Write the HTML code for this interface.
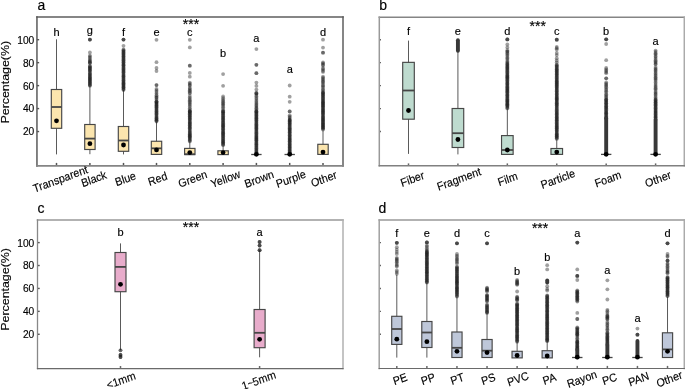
<!DOCTYPE html><html><head><meta charset="utf-8"><style>html,body{margin:0;padding:0;background:#fff;}svg{display:block;will-change:transform;}text{font-family:"Liberation Sans", sans-serif;fill:#000;stroke:#000;stroke-width:0.15px;}</style></head><body>
<svg width="685" height="389" viewBox="0 0 685 389">
<rect width="685" height="389" fill="#fff"/>
<text x="37.60" y="10.30" font-size="14" text-anchor="start" >a</text>
<line x1="36.95" y1="131.54" x2="39.15" y2="131.54" stroke="#555555" stroke-width="1.4"/>
<line x1="36.95" y1="108.58" x2="39.15" y2="108.58" stroke="#555555" stroke-width="1.4"/>
<line x1="36.95" y1="85.62" x2="39.15" y2="85.62" stroke="#555555" stroke-width="1.4"/>
<line x1="36.95" y1="62.66" x2="39.15" y2="62.66" stroke="#555555" stroke-width="1.4"/>
<line x1="36.95" y1="39.70" x2="39.15" y2="39.70" stroke="#555555" stroke-width="1.4"/>
<text x="0" y="0" font-size="11" text-anchor="end" transform="translate(34.3 135.44) scale(0.93 1)">20</text>
<text x="0" y="0" font-size="11" text-anchor="end" transform="translate(34.3 112.48) scale(0.93 1)">40</text>
<text x="0" y="0" font-size="11" text-anchor="end" transform="translate(34.3 89.52) scale(0.93 1)">60</text>
<text x="0" y="0" font-size="11" text-anchor="end" transform="translate(34.3 66.56) scale(0.93 1)">80</text>
<text x="0" y="0" font-size="11" text-anchor="end" transform="translate(34.3 43.60) scale(0.93 1)">100</text>
<text x="0" y="0" font-size="12.4" text-anchor="middle" transform="translate(9.3 82.2) scale(0.95 1) rotate(-90)">Percentage(%)</text>
<line x1="56.50" y1="165.9" x2="56.50" y2="162.90" stroke="#555555" stroke-width="1.5"/>
<line x1="89.90" y1="165.9" x2="89.90" y2="162.90" stroke="#555555" stroke-width="1.5"/>
<line x1="123.50" y1="165.9" x2="123.50" y2="162.90" stroke="#555555" stroke-width="1.5"/>
<line x1="156.50" y1="165.9" x2="156.50" y2="162.90" stroke="#555555" stroke-width="1.5"/>
<line x1="189.80" y1="165.9" x2="189.80" y2="162.90" stroke="#555555" stroke-width="1.5"/>
<line x1="223.10" y1="165.9" x2="223.10" y2="162.90" stroke="#555555" stroke-width="1.5"/>
<line x1="256.40" y1="165.9" x2="256.40" y2="162.90" stroke="#555555" stroke-width="1.5"/>
<line x1="289.70" y1="165.9" x2="289.70" y2="162.90" stroke="#555555" stroke-width="1.5"/>
<line x1="323.00" y1="165.9" x2="323.00" y2="162.90" stroke="#555555" stroke-width="1.5"/>
<line x1="56.50" y1="39.30" x2="56.50" y2="154.40" stroke="#5a5a5a" stroke-width="1"/>
<rect x="51.30" y="89.50" width="10.40" height="38.80" fill="#fbe5ae" stroke="#464646" stroke-width="1.15"/>
<line x1="51.30" y1="107.00" x2="61.70" y2="107.00" stroke="#464646" stroke-width="1.8"/>
<circle cx="56.50" cy="120.80" r="2.4" fill="#000"/>
<line x1="89.90" y1="86.00" x2="89.90" y2="154.20" stroke="#5a5a5a" stroke-width="1"/>
<rect x="84.70" y="124.50" width="10.40" height="25.00" fill="#fbe5ae" stroke="#464646" stroke-width="1.15"/>
<line x1="84.70" y1="138.60" x2="95.10" y2="138.60" stroke="#464646" stroke-width="1.8"/>
<circle cx="89.90" cy="143.70" r="2.4" fill="#000"/>
<circle cx="89.90" cy="39.60" r="1.9" fill="#1c1c1c" fill-opacity="0.42"/>
<circle cx="89.90" cy="39.60" r="1.9" fill="#1c1c1c" fill-opacity="0.42"/>
<circle cx="89.90" cy="39.60" r="1.9" fill="#1c1c1c" fill-opacity="0.42"/>
<circle cx="89.90" cy="52.50" r="1.9" fill="#1c1c1c" fill-opacity="0.42"/>
<circle cx="89.90" cy="55.60" r="1.9" fill="#1c1c1c" fill-opacity="0.42"/>
<circle cx="89.90" cy="56.83" r="1.9" fill="#1c1c1c" fill-opacity="0.42"/>
<circle cx="89.90" cy="57.95" r="1.9" fill="#1c1c1c" fill-opacity="0.42"/>
<circle cx="89.90" cy="59.40" r="1.9" fill="#1c1c1c" fill-opacity="0.42"/>
<circle cx="89.90" cy="60.70" r="1.9" fill="#1c1c1c" fill-opacity="0.42"/>
<circle cx="89.90" cy="61.46" r="1.9" fill="#1c1c1c" fill-opacity="0.42"/>
<circle cx="89.90" cy="62.16" r="1.9" fill="#1c1c1c" fill-opacity="0.42"/>
<circle cx="89.90" cy="62.75" r="1.9" fill="#1c1c1c" fill-opacity="0.42"/>
<circle cx="89.90" cy="63.30" r="1.9" fill="#1c1c1c" fill-opacity="0.42"/>
<circle cx="89.90" cy="65.80" r="1.9" fill="#1c1c1c" fill-opacity="0.42"/>
<circle cx="89.90" cy="66.38" r="1.9" fill="#1c1c1c" fill-opacity="0.42"/>
<circle cx="89.90" cy="67.10" r="1.9" fill="#1c1c1c" fill-opacity="0.42"/>
<circle cx="89.90" cy="67.69" r="1.9" fill="#1c1c1c" fill-opacity="0.42"/>
<circle cx="89.90" cy="68.29" r="1.9" fill="#1c1c1c" fill-opacity="0.42"/>
<circle cx="89.90" cy="69.01" r="1.9" fill="#1c1c1c" fill-opacity="0.42"/>
<circle cx="89.90" cy="69.88" r="1.9" fill="#1c1c1c" fill-opacity="0.42"/>
<circle cx="89.90" cy="70.49" r="1.9" fill="#1c1c1c" fill-opacity="0.42"/>
<circle cx="89.90" cy="71.00" r="1.9" fill="#1c1c1c" fill-opacity="0.42"/>
<circle cx="89.90" cy="72.50" r="1.9" fill="#1c1c1c" fill-opacity="0.42"/>
<circle cx="89.90" cy="73.30" r="1.9" fill="#1c1c1c" fill-opacity="0.42"/>
<circle cx="89.90" cy="74.22" r="1.9" fill="#1c1c1c" fill-opacity="0.42"/>
<circle cx="89.90" cy="74.99" r="1.9" fill="#1c1c1c" fill-opacity="0.42"/>
<circle cx="89.90" cy="75.71" r="1.9" fill="#1c1c1c" fill-opacity="0.42"/>
<circle cx="89.90" cy="76.63" r="1.9" fill="#1c1c1c" fill-opacity="0.42"/>
<circle cx="89.90" cy="77.21" r="1.9" fill="#1c1c1c" fill-opacity="0.42"/>
<circle cx="89.90" cy="78.10" r="1.9" fill="#1c1c1c" fill-opacity="0.42"/>
<circle cx="89.90" cy="78.77" r="1.9" fill="#1c1c1c" fill-opacity="0.42"/>
<circle cx="89.90" cy="79.39" r="1.9" fill="#1c1c1c" fill-opacity="0.42"/>
<circle cx="89.90" cy="79.99" r="1.9" fill="#1c1c1c" fill-opacity="0.42"/>
<circle cx="89.90" cy="80.67" r="1.9" fill="#1c1c1c" fill-opacity="0.42"/>
<circle cx="89.90" cy="81.54" r="1.9" fill="#1c1c1c" fill-opacity="0.42"/>
<circle cx="89.90" cy="82.17" r="1.9" fill="#1c1c1c" fill-opacity="0.42"/>
<circle cx="89.90" cy="82.95" r="1.9" fill="#1c1c1c" fill-opacity="0.42"/>
<circle cx="89.90" cy="83.75" r="1.9" fill="#1c1c1c" fill-opacity="0.42"/>
<circle cx="89.90" cy="84.46" r="1.9" fill="#1c1c1c" fill-opacity="0.42"/>
<circle cx="89.90" cy="85.22" r="1.9" fill="#1c1c1c" fill-opacity="0.42"/>
<circle cx="89.90" cy="85.81" r="1.9" fill="#1c1c1c" fill-opacity="0.42"/>
<line x1="123.50" y1="90.00" x2="123.50" y2="154.40" stroke="#5a5a5a" stroke-width="1"/>
<rect x="118.30" y="126.50" width="10.40" height="24.80" fill="#fbe5ae" stroke="#464646" stroke-width="1.15"/>
<line x1="118.30" y1="140.50" x2="128.70" y2="140.50" stroke="#464646" stroke-width="1.8"/>
<circle cx="123.50" cy="145.00" r="2.4" fill="#000"/>
<circle cx="123.50" cy="39.60" r="1.9" fill="#1c1c1c" fill-opacity="0.42"/>
<circle cx="123.50" cy="39.60" r="1.9" fill="#1c1c1c" fill-opacity="0.42"/>
<circle cx="123.50" cy="39.60" r="1.9" fill="#1c1c1c" fill-opacity="0.42"/>
<circle cx="123.50" cy="45.80" r="1.9" fill="#1c1c1c" fill-opacity="0.42"/>
<circle cx="123.50" cy="49.50" r="1.9" fill="#1c1c1c" fill-opacity="0.42"/>
<circle cx="123.50" cy="50.14" r="1.9" fill="#1c1c1c" fill-opacity="0.42"/>
<circle cx="123.50" cy="50.96" r="1.9" fill="#1c1c1c" fill-opacity="0.42"/>
<circle cx="123.50" cy="51.68" r="1.9" fill="#1c1c1c" fill-opacity="0.42"/>
<circle cx="123.50" cy="52.36" r="1.9" fill="#1c1c1c" fill-opacity="0.42"/>
<circle cx="123.50" cy="53.14" r="1.9" fill="#1c1c1c" fill-opacity="0.42"/>
<circle cx="123.50" cy="53.88" r="1.9" fill="#1c1c1c" fill-opacity="0.42"/>
<circle cx="123.50" cy="54.55" r="1.9" fill="#1c1c1c" fill-opacity="0.42"/>
<circle cx="123.50" cy="55.41" r="1.9" fill="#1c1c1c" fill-opacity="0.42"/>
<circle cx="123.50" cy="56.23" r="1.9" fill="#1c1c1c" fill-opacity="0.42"/>
<circle cx="123.50" cy="56.89" r="1.9" fill="#1c1c1c" fill-opacity="0.42"/>
<circle cx="123.50" cy="57.67" r="1.9" fill="#1c1c1c" fill-opacity="0.42"/>
<circle cx="123.50" cy="58.43" r="1.9" fill="#1c1c1c" fill-opacity="0.42"/>
<circle cx="123.50" cy="59.32" r="1.9" fill="#1c1c1c" fill-opacity="0.42"/>
<circle cx="123.50" cy="60.15" r="1.9" fill="#1c1c1c" fill-opacity="0.42"/>
<circle cx="123.50" cy="60.82" r="1.9" fill="#1c1c1c" fill-opacity="0.42"/>
<circle cx="123.50" cy="61.75" r="1.9" fill="#1c1c1c" fill-opacity="0.42"/>
<circle cx="123.50" cy="62.36" r="1.9" fill="#1c1c1c" fill-opacity="0.42"/>
<circle cx="123.50" cy="63.08" r="1.9" fill="#1c1c1c" fill-opacity="0.42"/>
<circle cx="123.50" cy="63.93" r="1.9" fill="#1c1c1c" fill-opacity="0.42"/>
<circle cx="123.50" cy="64.55" r="1.9" fill="#1c1c1c" fill-opacity="0.42"/>
<circle cx="123.50" cy="65.29" r="1.9" fill="#1c1c1c" fill-opacity="0.42"/>
<circle cx="123.50" cy="65.87" r="1.9" fill="#1c1c1c" fill-opacity="0.42"/>
<circle cx="123.50" cy="66.68" r="1.9" fill="#1c1c1c" fill-opacity="0.42"/>
<circle cx="123.50" cy="67.53" r="1.9" fill="#1c1c1c" fill-opacity="0.42"/>
<circle cx="123.50" cy="68.31" r="1.9" fill="#1c1c1c" fill-opacity="0.42"/>
<circle cx="123.50" cy="69.20" r="1.9" fill="#1c1c1c" fill-opacity="0.42"/>
<circle cx="123.50" cy="69.88" r="1.9" fill="#1c1c1c" fill-opacity="0.42"/>
<circle cx="123.50" cy="70.70" r="1.9" fill="#1c1c1c" fill-opacity="0.42"/>
<circle cx="123.50" cy="71.49" r="1.9" fill="#1c1c1c" fill-opacity="0.42"/>
<circle cx="123.50" cy="72.27" r="1.9" fill="#1c1c1c" fill-opacity="0.42"/>
<circle cx="123.50" cy="73.00" r="1.9" fill="#1c1c1c" fill-opacity="0.42"/>
<circle cx="123.50" cy="73.88" r="1.9" fill="#1c1c1c" fill-opacity="0.42"/>
<circle cx="123.50" cy="74.80" r="1.9" fill="#1c1c1c" fill-opacity="0.42"/>
<circle cx="123.50" cy="75.54" r="1.9" fill="#1c1c1c" fill-opacity="0.42"/>
<circle cx="123.50" cy="76.35" r="1.9" fill="#1c1c1c" fill-opacity="0.42"/>
<circle cx="123.50" cy="76.93" r="1.9" fill="#1c1c1c" fill-opacity="0.42"/>
<circle cx="123.50" cy="77.76" r="1.9" fill="#1c1c1c" fill-opacity="0.42"/>
<circle cx="123.50" cy="78.56" r="1.9" fill="#1c1c1c" fill-opacity="0.42"/>
<circle cx="123.50" cy="79.50" r="1.9" fill="#1c1c1c" fill-opacity="0.42"/>
<circle cx="123.50" cy="80.37" r="1.9" fill="#1c1c1c" fill-opacity="0.42"/>
<circle cx="123.50" cy="81.04" r="1.9" fill="#1c1c1c" fill-opacity="0.42"/>
<circle cx="123.50" cy="81.75" r="1.9" fill="#1c1c1c" fill-opacity="0.42"/>
<circle cx="123.50" cy="82.56" r="1.9" fill="#1c1c1c" fill-opacity="0.42"/>
<circle cx="123.50" cy="83.13" r="1.9" fill="#1c1c1c" fill-opacity="0.42"/>
<circle cx="123.50" cy="83.87" r="1.9" fill="#1c1c1c" fill-opacity="0.42"/>
<circle cx="123.50" cy="84.49" r="1.9" fill="#1c1c1c" fill-opacity="0.42"/>
<circle cx="123.50" cy="85.10" r="1.9" fill="#1c1c1c" fill-opacity="0.42"/>
<circle cx="123.50" cy="85.68" r="1.9" fill="#1c1c1c" fill-opacity="0.42"/>
<circle cx="123.50" cy="86.53" r="1.9" fill="#1c1c1c" fill-opacity="0.42"/>
<circle cx="123.50" cy="87.14" r="1.9" fill="#1c1c1c" fill-opacity="0.42"/>
<circle cx="123.50" cy="87.80" r="1.9" fill="#1c1c1c" fill-opacity="0.42"/>
<circle cx="123.50" cy="88.51" r="1.9" fill="#1c1c1c" fill-opacity="0.42"/>
<circle cx="123.50" cy="89.40" r="1.9" fill="#1c1c1c" fill-opacity="0.42"/>
<circle cx="123.50" cy="89.99" r="1.9" fill="#1c1c1c" fill-opacity="0.42"/>
<line x1="156.50" y1="121.70" x2="156.50" y2="154.40" stroke="#5a5a5a" stroke-width="1"/>
<rect x="151.30" y="141.25" width="10.40" height="13.15" fill="#fbe5ae" stroke="#464646" stroke-width="1.15"/>
<line x1="151.30" y1="148.35" x2="161.70" y2="148.35" stroke="#464646" stroke-width="1.8"/>
<circle cx="156.50" cy="149.90" r="2.4" fill="#000"/>
<circle cx="156.50" cy="39.80" r="1.9" fill="#1c1c1c" fill-opacity="0.42"/>
<circle cx="156.50" cy="62.20" r="1.9" fill="#1c1c1c" fill-opacity="0.42"/>
<circle cx="156.50" cy="67.90" r="1.9" fill="#1c1c1c" fill-opacity="0.42"/>
<circle cx="156.50" cy="71.00" r="1.9" fill="#1c1c1c" fill-opacity="0.42"/>
<circle cx="156.50" cy="85.10" r="1.9" fill="#1c1c1c" fill-opacity="0.42"/>
<circle cx="156.50" cy="85.10" r="1.9" fill="#1c1c1c" fill-opacity="0.42"/>
<circle cx="156.50" cy="89.00" r="1.9" fill="#1c1c1c" fill-opacity="0.42"/>
<circle cx="156.50" cy="90.38" r="1.9" fill="#1c1c1c" fill-opacity="0.42"/>
<circle cx="156.50" cy="91.99" r="1.9" fill="#1c1c1c" fill-opacity="0.42"/>
<circle cx="156.50" cy="93.56" r="1.9" fill="#1c1c1c" fill-opacity="0.42"/>
<circle cx="156.50" cy="95.15" r="1.9" fill="#1c1c1c" fill-opacity="0.42"/>
<circle cx="156.50" cy="96.35" r="1.9" fill="#1c1c1c" fill-opacity="0.42"/>
<circle cx="156.50" cy="97.65" r="1.9" fill="#1c1c1c" fill-opacity="0.42"/>
<circle cx="156.50" cy="98.00" r="1.9" fill="#1c1c1c" fill-opacity="0.42"/>
<circle cx="156.50" cy="99.61" r="1.9" fill="#1c1c1c" fill-opacity="0.42"/>
<circle cx="156.50" cy="101.27" r="1.9" fill="#1c1c1c" fill-opacity="0.42"/>
<circle cx="156.50" cy="101.80" r="1.9" fill="#1c1c1c" fill-opacity="0.42"/>
<circle cx="156.50" cy="101.80" r="1.9" fill="#1c1c1c" fill-opacity="0.42"/>
<circle cx="156.50" cy="102.43" r="1.9" fill="#1c1c1c" fill-opacity="0.42"/>
<circle cx="156.50" cy="103.08" r="1.9" fill="#1c1c1c" fill-opacity="0.42"/>
<circle cx="156.50" cy="103.73" r="1.9" fill="#1c1c1c" fill-opacity="0.42"/>
<circle cx="156.50" cy="104.47" r="1.9" fill="#1c1c1c" fill-opacity="0.42"/>
<circle cx="156.50" cy="105.26" r="1.9" fill="#1c1c1c" fill-opacity="0.42"/>
<circle cx="156.50" cy="105.92" r="1.9" fill="#1c1c1c" fill-opacity="0.42"/>
<circle cx="156.50" cy="106.48" r="1.9" fill="#1c1c1c" fill-opacity="0.42"/>
<circle cx="156.50" cy="107.20" r="1.9" fill="#1c1c1c" fill-opacity="0.42"/>
<circle cx="156.50" cy="107.90" r="1.9" fill="#1c1c1c" fill-opacity="0.42"/>
<circle cx="156.50" cy="108.68" r="1.9" fill="#1c1c1c" fill-opacity="0.42"/>
<circle cx="156.50" cy="109.60" r="1.9" fill="#1c1c1c" fill-opacity="0.42"/>
<circle cx="156.50" cy="110.42" r="1.9" fill="#1c1c1c" fill-opacity="0.42"/>
<circle cx="156.50" cy="111.17" r="1.9" fill="#1c1c1c" fill-opacity="0.42"/>
<circle cx="156.50" cy="111.97" r="1.9" fill="#1c1c1c" fill-opacity="0.42"/>
<circle cx="156.50" cy="112.78" r="1.9" fill="#1c1c1c" fill-opacity="0.42"/>
<circle cx="156.50" cy="113.37" r="1.9" fill="#1c1c1c" fill-opacity="0.42"/>
<circle cx="156.50" cy="114.27" r="1.9" fill="#1c1c1c" fill-opacity="0.42"/>
<circle cx="156.50" cy="115.12" r="1.9" fill="#1c1c1c" fill-opacity="0.42"/>
<circle cx="156.50" cy="116.01" r="1.9" fill="#1c1c1c" fill-opacity="0.42"/>
<circle cx="156.50" cy="116.87" r="1.9" fill="#1c1c1c" fill-opacity="0.42"/>
<circle cx="156.50" cy="117.58" r="1.9" fill="#1c1c1c" fill-opacity="0.42"/>
<circle cx="156.50" cy="118.30" r="1.9" fill="#1c1c1c" fill-opacity="0.42"/>
<circle cx="156.50" cy="118.90" r="1.9" fill="#1c1c1c" fill-opacity="0.42"/>
<circle cx="156.50" cy="119.70" r="1.9" fill="#1c1c1c" fill-opacity="0.42"/>
<circle cx="156.50" cy="120.28" r="1.9" fill="#1c1c1c" fill-opacity="0.42"/>
<circle cx="156.50" cy="120.87" r="1.9" fill="#1c1c1c" fill-opacity="0.42"/>
<circle cx="156.50" cy="121.50" r="1.9" fill="#1c1c1c" fill-opacity="0.42"/>
<line x1="189.80" y1="141.40" x2="189.80" y2="154.40" stroke="#5a5a5a" stroke-width="1"/>
<rect x="184.60" y="148.40" width="10.40" height="6.20" fill="#fbe5ae" stroke="#464646" stroke-width="1.15"/>
<line x1="184.60" y1="154.20" x2="195.00" y2="154.20" stroke="#464646" stroke-width="1.8"/>
<circle cx="189.80" cy="152.60" r="2.4" fill="#000"/>
<circle cx="189.80" cy="39.80" r="1.9" fill="#1c1c1c" fill-opacity="0.42"/>
<circle cx="189.80" cy="47.40" r="1.9" fill="#1c1c1c" fill-opacity="0.42"/>
<circle cx="189.80" cy="65.70" r="1.9" fill="#1c1c1c" fill-opacity="0.42"/>
<circle cx="189.80" cy="65.70" r="1.9" fill="#1c1c1c" fill-opacity="0.42"/>
<circle cx="189.80" cy="72.90" r="1.9" fill="#1c1c1c" fill-opacity="0.42"/>
<circle cx="189.80" cy="76.70" r="1.9" fill="#1c1c1c" fill-opacity="0.42"/>
<circle cx="189.80" cy="82.60" r="1.9" fill="#1c1c1c" fill-opacity="0.42"/>
<circle cx="189.80" cy="83.72" r="1.9" fill="#1c1c1c" fill-opacity="0.42"/>
<circle cx="189.80" cy="84.96" r="1.9" fill="#1c1c1c" fill-opacity="0.42"/>
<circle cx="189.80" cy="85.70" r="1.9" fill="#1c1c1c" fill-opacity="0.42"/>
<circle cx="189.80" cy="88.00" r="1.9" fill="#1c1c1c" fill-opacity="0.42"/>
<circle cx="189.80" cy="89.01" r="1.9" fill="#1c1c1c" fill-opacity="0.42"/>
<circle cx="189.80" cy="90.13" r="1.9" fill="#1c1c1c" fill-opacity="0.42"/>
<circle cx="189.80" cy="91.21" r="1.9" fill="#1c1c1c" fill-opacity="0.42"/>
<circle cx="189.80" cy="92.47" r="1.9" fill="#1c1c1c" fill-opacity="0.42"/>
<circle cx="189.80" cy="93.40" r="1.9" fill="#1c1c1c" fill-opacity="0.42"/>
<circle cx="189.80" cy="96.00" r="1.9" fill="#1c1c1c" fill-opacity="0.42"/>
<circle cx="189.80" cy="97.60" r="1.9" fill="#1c1c1c" fill-opacity="0.42"/>
<circle cx="189.80" cy="99.03" r="1.9" fill="#1c1c1c" fill-opacity="0.42"/>
<circle cx="189.80" cy="100.14" r="1.9" fill="#1c1c1c" fill-opacity="0.42"/>
<circle cx="189.80" cy="101.33" r="1.9" fill="#1c1c1c" fill-opacity="0.42"/>
<circle cx="189.80" cy="102.57" r="1.9" fill="#1c1c1c" fill-opacity="0.42"/>
<circle cx="189.80" cy="103.83" r="1.9" fill="#1c1c1c" fill-opacity="0.42"/>
<circle cx="189.80" cy="104.93" r="1.9" fill="#1c1c1c" fill-opacity="0.42"/>
<circle cx="189.80" cy="106.51" r="1.9" fill="#1c1c1c" fill-opacity="0.42"/>
<circle cx="189.80" cy="108.19" r="1.9" fill="#1c1c1c" fill-opacity="0.42"/>
<circle cx="189.80" cy="109.52" r="1.9" fill="#1c1c1c" fill-opacity="0.42"/>
<circle cx="189.80" cy="110.86" r="1.9" fill="#1c1c1c" fill-opacity="0.42"/>
<circle cx="189.80" cy="111.40" r="1.9" fill="#1c1c1c" fill-opacity="0.42"/>
<circle cx="189.80" cy="111.40" r="1.9" fill="#1c1c1c" fill-opacity="0.42"/>
<circle cx="189.80" cy="112.00" r="1.9" fill="#1c1c1c" fill-opacity="0.42"/>
<circle cx="189.80" cy="112.69" r="1.9" fill="#1c1c1c" fill-opacity="0.42"/>
<circle cx="189.80" cy="113.35" r="1.9" fill="#1c1c1c" fill-opacity="0.42"/>
<circle cx="189.80" cy="114.23" r="1.9" fill="#1c1c1c" fill-opacity="0.42"/>
<circle cx="189.80" cy="114.85" r="1.9" fill="#1c1c1c" fill-opacity="0.42"/>
<circle cx="189.80" cy="115.42" r="1.9" fill="#1c1c1c" fill-opacity="0.42"/>
<circle cx="189.80" cy="116.34" r="1.9" fill="#1c1c1c" fill-opacity="0.42"/>
<circle cx="189.80" cy="117.10" r="1.9" fill="#1c1c1c" fill-opacity="0.42"/>
<circle cx="189.80" cy="117.72" r="1.9" fill="#1c1c1c" fill-opacity="0.42"/>
<circle cx="189.80" cy="118.48" r="1.9" fill="#1c1c1c" fill-opacity="0.42"/>
<circle cx="189.80" cy="119.06" r="1.9" fill="#1c1c1c" fill-opacity="0.42"/>
<circle cx="189.80" cy="119.82" r="1.9" fill="#1c1c1c" fill-opacity="0.42"/>
<circle cx="189.80" cy="120.75" r="1.9" fill="#1c1c1c" fill-opacity="0.42"/>
<circle cx="189.80" cy="121.63" r="1.9" fill="#1c1c1c" fill-opacity="0.42"/>
<circle cx="189.80" cy="122.46" r="1.9" fill="#1c1c1c" fill-opacity="0.42"/>
<circle cx="189.80" cy="123.12" r="1.9" fill="#1c1c1c" fill-opacity="0.42"/>
<circle cx="189.80" cy="123.82" r="1.9" fill="#1c1c1c" fill-opacity="0.42"/>
<circle cx="189.80" cy="124.44" r="1.9" fill="#1c1c1c" fill-opacity="0.42"/>
<circle cx="189.80" cy="125.29" r="1.9" fill="#1c1c1c" fill-opacity="0.42"/>
<circle cx="189.80" cy="126.06" r="1.9" fill="#1c1c1c" fill-opacity="0.42"/>
<circle cx="189.80" cy="126.91" r="1.9" fill="#1c1c1c" fill-opacity="0.42"/>
<circle cx="189.80" cy="127.60" r="1.9" fill="#1c1c1c" fill-opacity="0.42"/>
<circle cx="189.80" cy="128.24" r="1.9" fill="#1c1c1c" fill-opacity="0.42"/>
<circle cx="189.80" cy="129.11" r="1.9" fill="#1c1c1c" fill-opacity="0.42"/>
<circle cx="189.80" cy="130.04" r="1.9" fill="#1c1c1c" fill-opacity="0.42"/>
<circle cx="189.80" cy="130.92" r="1.9" fill="#1c1c1c" fill-opacity="0.42"/>
<circle cx="189.80" cy="131.79" r="1.9" fill="#1c1c1c" fill-opacity="0.42"/>
<circle cx="189.80" cy="132.66" r="1.9" fill="#1c1c1c" fill-opacity="0.42"/>
<circle cx="189.80" cy="133.50" r="1.9" fill="#1c1c1c" fill-opacity="0.42"/>
<circle cx="189.80" cy="134.15" r="1.9" fill="#1c1c1c" fill-opacity="0.42"/>
<circle cx="189.80" cy="134.90" r="1.9" fill="#1c1c1c" fill-opacity="0.42"/>
<circle cx="189.80" cy="135.60" r="1.9" fill="#1c1c1c" fill-opacity="0.42"/>
<circle cx="189.80" cy="136.17" r="1.9" fill="#1c1c1c" fill-opacity="0.42"/>
<circle cx="189.80" cy="136.74" r="1.9" fill="#1c1c1c" fill-opacity="0.42"/>
<circle cx="189.80" cy="137.41" r="1.9" fill="#1c1c1c" fill-opacity="0.42"/>
<circle cx="189.80" cy="138.07" r="1.9" fill="#1c1c1c" fill-opacity="0.42"/>
<circle cx="189.80" cy="138.89" r="1.9" fill="#1c1c1c" fill-opacity="0.42"/>
<circle cx="189.80" cy="139.82" r="1.9" fill="#1c1c1c" fill-opacity="0.42"/>
<circle cx="189.80" cy="140.55" r="1.9" fill="#1c1c1c" fill-opacity="0.42"/>
<circle cx="189.80" cy="141.40" r="1.9" fill="#1c1c1c" fill-opacity="0.42"/>
<line x1="223.10" y1="145.50" x2="223.10" y2="151.00" stroke="#5a5a5a" stroke-width="1"/>
<rect x="217.90" y="150.80" width="10.40" height="3.80" fill="#fbe5ae" stroke="#464646" stroke-width="1.15"/>
<circle cx="223.10" cy="74.10" r="1.9" fill="#1c1c1c" fill-opacity="0.42"/>
<circle cx="223.10" cy="85.80" r="1.9" fill="#1c1c1c" fill-opacity="0.42"/>
<circle cx="223.10" cy="96.50" r="1.9" fill="#1c1c1c" fill-opacity="0.42"/>
<circle cx="223.10" cy="98.18" r="1.9" fill="#1c1c1c" fill-opacity="0.42"/>
<circle cx="223.10" cy="99.84" r="1.9" fill="#1c1c1c" fill-opacity="0.42"/>
<circle cx="223.10" cy="101.10" r="1.9" fill="#1c1c1c" fill-opacity="0.42"/>
<circle cx="223.10" cy="102.26" r="1.9" fill="#1c1c1c" fill-opacity="0.42"/>
<circle cx="223.10" cy="103.42" r="1.9" fill="#1c1c1c" fill-opacity="0.42"/>
<circle cx="223.10" cy="104.57" r="1.9" fill="#1c1c1c" fill-opacity="0.42"/>
<circle cx="223.10" cy="105.72" r="1.9" fill="#1c1c1c" fill-opacity="0.42"/>
<circle cx="223.10" cy="107.15" r="1.9" fill="#1c1c1c" fill-opacity="0.42"/>
<circle cx="223.10" cy="108.77" r="1.9" fill="#1c1c1c" fill-opacity="0.42"/>
<circle cx="223.10" cy="110.35" r="1.9" fill="#1c1c1c" fill-opacity="0.42"/>
<circle cx="223.10" cy="111.40" r="1.9" fill="#1c1c1c" fill-opacity="0.42"/>
<circle cx="223.10" cy="111.40" r="1.9" fill="#1c1c1c" fill-opacity="0.42"/>
<circle cx="223.10" cy="112.21" r="1.9" fill="#1c1c1c" fill-opacity="0.42"/>
<circle cx="223.10" cy="113.07" r="1.9" fill="#1c1c1c" fill-opacity="0.42"/>
<circle cx="223.10" cy="113.66" r="1.9" fill="#1c1c1c" fill-opacity="0.42"/>
<circle cx="223.10" cy="114.47" r="1.9" fill="#1c1c1c" fill-opacity="0.42"/>
<circle cx="223.10" cy="115.38" r="1.9" fill="#1c1c1c" fill-opacity="0.42"/>
<circle cx="223.10" cy="116.23" r="1.9" fill="#1c1c1c" fill-opacity="0.42"/>
<circle cx="223.10" cy="117.08" r="1.9" fill="#1c1c1c" fill-opacity="0.42"/>
<circle cx="223.10" cy="117.82" r="1.9" fill="#1c1c1c" fill-opacity="0.42"/>
<circle cx="223.10" cy="118.45" r="1.9" fill="#1c1c1c" fill-opacity="0.42"/>
<circle cx="223.10" cy="119.31" r="1.9" fill="#1c1c1c" fill-opacity="0.42"/>
<circle cx="223.10" cy="119.99" r="1.9" fill="#1c1c1c" fill-opacity="0.42"/>
<circle cx="223.10" cy="120.86" r="1.9" fill="#1c1c1c" fill-opacity="0.42"/>
<circle cx="223.10" cy="121.78" r="1.9" fill="#1c1c1c" fill-opacity="0.42"/>
<circle cx="223.10" cy="122.50" r="1.9" fill="#1c1c1c" fill-opacity="0.42"/>
<circle cx="223.10" cy="123.21" r="1.9" fill="#1c1c1c" fill-opacity="0.42"/>
<circle cx="223.10" cy="124.13" r="1.9" fill="#1c1c1c" fill-opacity="0.42"/>
<circle cx="223.10" cy="124.96" r="1.9" fill="#1c1c1c" fill-opacity="0.42"/>
<circle cx="223.10" cy="125.59" r="1.9" fill="#1c1c1c" fill-opacity="0.42"/>
<circle cx="223.10" cy="126.20" r="1.9" fill="#1c1c1c" fill-opacity="0.42"/>
<circle cx="223.10" cy="126.82" r="1.9" fill="#1c1c1c" fill-opacity="0.42"/>
<circle cx="223.10" cy="127.72" r="1.9" fill="#1c1c1c" fill-opacity="0.42"/>
<circle cx="223.10" cy="128.58" r="1.9" fill="#1c1c1c" fill-opacity="0.42"/>
<circle cx="223.10" cy="129.20" r="1.9" fill="#1c1c1c" fill-opacity="0.42"/>
<circle cx="223.10" cy="130.07" r="1.9" fill="#1c1c1c" fill-opacity="0.42"/>
<circle cx="223.10" cy="131.00" r="1.9" fill="#1c1c1c" fill-opacity="0.42"/>
<circle cx="223.10" cy="131.81" r="1.9" fill="#1c1c1c" fill-opacity="0.42"/>
<circle cx="223.10" cy="132.50" r="1.9" fill="#1c1c1c" fill-opacity="0.42"/>
<circle cx="223.10" cy="133.27" r="1.9" fill="#1c1c1c" fill-opacity="0.42"/>
<circle cx="223.10" cy="133.88" r="1.9" fill="#1c1c1c" fill-opacity="0.42"/>
<circle cx="223.10" cy="134.45" r="1.9" fill="#1c1c1c" fill-opacity="0.42"/>
<circle cx="223.10" cy="135.38" r="1.9" fill="#1c1c1c" fill-opacity="0.42"/>
<circle cx="223.10" cy="136.19" r="1.9" fill="#1c1c1c" fill-opacity="0.42"/>
<circle cx="223.10" cy="136.95" r="1.9" fill="#1c1c1c" fill-opacity="0.42"/>
<circle cx="223.10" cy="137.86" r="1.9" fill="#1c1c1c" fill-opacity="0.42"/>
<circle cx="223.10" cy="138.58" r="1.9" fill="#1c1c1c" fill-opacity="0.42"/>
<circle cx="223.10" cy="139.47" r="1.9" fill="#1c1c1c" fill-opacity="0.42"/>
<circle cx="223.10" cy="140.34" r="1.9" fill="#1c1c1c" fill-opacity="0.42"/>
<circle cx="223.10" cy="140.99" r="1.9" fill="#1c1c1c" fill-opacity="0.42"/>
<circle cx="223.10" cy="141.64" r="1.9" fill="#1c1c1c" fill-opacity="0.42"/>
<circle cx="223.10" cy="142.32" r="1.9" fill="#1c1c1c" fill-opacity="0.42"/>
<circle cx="223.10" cy="142.97" r="1.9" fill="#1c1c1c" fill-opacity="0.42"/>
<circle cx="223.10" cy="143.75" r="1.9" fill="#1c1c1c" fill-opacity="0.42"/>
<circle cx="223.10" cy="144.41" r="1.9" fill="#1c1c1c" fill-opacity="0.42"/>
<circle cx="223.10" cy="145.13" r="1.9" fill="#1c1c1c" fill-opacity="0.42"/>
<circle cx="223.10" cy="152.60" r="2.3" fill="#000"/>
<circle cx="256.40" cy="49.10" r="1.9" fill="#1c1c1c" fill-opacity="0.42"/>
<circle cx="256.40" cy="64.80" r="1.9" fill="#1c1c1c" fill-opacity="0.42"/>
<circle cx="256.40" cy="64.80" r="1.9" fill="#1c1c1c" fill-opacity="0.42"/>
<circle cx="256.40" cy="73.20" r="1.9" fill="#1c1c1c" fill-opacity="0.42"/>
<circle cx="256.40" cy="73.20" r="1.9" fill="#1c1c1c" fill-opacity="0.42"/>
<circle cx="256.40" cy="82.60" r="1.9" fill="#1c1c1c" fill-opacity="0.42"/>
<circle cx="256.40" cy="85.90" r="1.9" fill="#1c1c1c" fill-opacity="0.42"/>
<circle cx="256.40" cy="89.60" r="1.9" fill="#1c1c1c" fill-opacity="0.42"/>
<circle cx="256.40" cy="92.73" r="1.9" fill="#1c1c1c" fill-opacity="0.42"/>
<circle cx="256.40" cy="93.40" r="1.9" fill="#1c1c1c" fill-opacity="0.42"/>
<circle cx="256.40" cy="93.40" r="1.9" fill="#1c1c1c" fill-opacity="0.42"/>
<circle cx="256.40" cy="94.72" r="1.9" fill="#1c1c1c" fill-opacity="0.42"/>
<circle cx="256.40" cy="96.13" r="1.9" fill="#1c1c1c" fill-opacity="0.42"/>
<circle cx="256.40" cy="97.75" r="1.9" fill="#1c1c1c" fill-opacity="0.42"/>
<circle cx="256.40" cy="99.05" r="1.9" fill="#1c1c1c" fill-opacity="0.42"/>
<circle cx="256.40" cy="100.68" r="1.9" fill="#1c1c1c" fill-opacity="0.42"/>
<circle cx="256.40" cy="102.03" r="1.9" fill="#1c1c1c" fill-opacity="0.42"/>
<circle cx="256.40" cy="103.40" r="1.9" fill="#1c1c1c" fill-opacity="0.42"/>
<circle cx="256.40" cy="104.77" r="1.9" fill="#1c1c1c" fill-opacity="0.42"/>
<circle cx="256.40" cy="105.79" r="1.9" fill="#1c1c1c" fill-opacity="0.42"/>
<circle cx="256.40" cy="107.10" r="1.9" fill="#1c1c1c" fill-opacity="0.42"/>
<circle cx="256.40" cy="108.24" r="1.9" fill="#1c1c1c" fill-opacity="0.42"/>
<circle cx="256.40" cy="109.25" r="1.9" fill="#1c1c1c" fill-opacity="0.42"/>
<circle cx="256.40" cy="110.81" r="1.9" fill="#1c1c1c" fill-opacity="0.42"/>
<circle cx="256.40" cy="111.40" r="1.9" fill="#1c1c1c" fill-opacity="0.42"/>
<circle cx="256.40" cy="111.40" r="1.9" fill="#1c1c1c" fill-opacity="0.42"/>
<circle cx="256.40" cy="112.14" r="1.9" fill="#1c1c1c" fill-opacity="0.42"/>
<circle cx="256.40" cy="112.97" r="1.9" fill="#1c1c1c" fill-opacity="0.42"/>
<circle cx="256.40" cy="113.75" r="1.9" fill="#1c1c1c" fill-opacity="0.42"/>
<circle cx="256.40" cy="114.43" r="1.9" fill="#1c1c1c" fill-opacity="0.42"/>
<circle cx="256.40" cy="115.19" r="1.9" fill="#1c1c1c" fill-opacity="0.42"/>
<circle cx="256.40" cy="115.96" r="1.9" fill="#1c1c1c" fill-opacity="0.42"/>
<circle cx="256.40" cy="116.81" r="1.9" fill="#1c1c1c" fill-opacity="0.42"/>
<circle cx="256.40" cy="117.42" r="1.9" fill="#1c1c1c" fill-opacity="0.42"/>
<circle cx="256.40" cy="118.19" r="1.9" fill="#1c1c1c" fill-opacity="0.42"/>
<circle cx="256.40" cy="118.85" r="1.9" fill="#1c1c1c" fill-opacity="0.42"/>
<circle cx="256.40" cy="119.51" r="1.9" fill="#1c1c1c" fill-opacity="0.42"/>
<circle cx="256.40" cy="120.36" r="1.9" fill="#1c1c1c" fill-opacity="0.42"/>
<circle cx="256.40" cy="121.12" r="1.9" fill="#1c1c1c" fill-opacity="0.42"/>
<circle cx="256.40" cy="121.89" r="1.9" fill="#1c1c1c" fill-opacity="0.42"/>
<circle cx="256.40" cy="122.74" r="1.9" fill="#1c1c1c" fill-opacity="0.42"/>
<circle cx="256.40" cy="123.64" r="1.9" fill="#1c1c1c" fill-opacity="0.42"/>
<circle cx="256.40" cy="124.37" r="1.9" fill="#1c1c1c" fill-opacity="0.42"/>
<circle cx="256.40" cy="125.16" r="1.9" fill="#1c1c1c" fill-opacity="0.42"/>
<circle cx="256.40" cy="125.91" r="1.9" fill="#1c1c1c" fill-opacity="0.42"/>
<circle cx="256.40" cy="126.67" r="1.9" fill="#1c1c1c" fill-opacity="0.42"/>
<circle cx="256.40" cy="127.49" r="1.9" fill="#1c1c1c" fill-opacity="0.42"/>
<circle cx="256.40" cy="128.22" r="1.9" fill="#1c1c1c" fill-opacity="0.42"/>
<circle cx="256.40" cy="128.99" r="1.9" fill="#1c1c1c" fill-opacity="0.42"/>
<circle cx="256.40" cy="129.73" r="1.9" fill="#1c1c1c" fill-opacity="0.42"/>
<circle cx="256.40" cy="130.64" r="1.9" fill="#1c1c1c" fill-opacity="0.42"/>
<circle cx="256.40" cy="131.47" r="1.9" fill="#1c1c1c" fill-opacity="0.42"/>
<circle cx="256.40" cy="132.36" r="1.9" fill="#1c1c1c" fill-opacity="0.42"/>
<circle cx="256.40" cy="133.28" r="1.9" fill="#1c1c1c" fill-opacity="0.42"/>
<circle cx="256.40" cy="133.94" r="1.9" fill="#1c1c1c" fill-opacity="0.42"/>
<circle cx="256.40" cy="134.71" r="1.9" fill="#1c1c1c" fill-opacity="0.42"/>
<circle cx="256.40" cy="135.62" r="1.9" fill="#1c1c1c" fill-opacity="0.42"/>
<circle cx="256.40" cy="136.50" r="1.9" fill="#1c1c1c" fill-opacity="0.42"/>
<circle cx="256.40" cy="137.12" r="1.9" fill="#1c1c1c" fill-opacity="0.42"/>
<circle cx="256.40" cy="137.72" r="1.9" fill="#1c1c1c" fill-opacity="0.42"/>
<circle cx="256.40" cy="138.45" r="1.9" fill="#1c1c1c" fill-opacity="0.42"/>
<circle cx="256.40" cy="139.04" r="1.9" fill="#1c1c1c" fill-opacity="0.42"/>
<circle cx="256.40" cy="139.69" r="1.9" fill="#1c1c1c" fill-opacity="0.42"/>
<circle cx="256.40" cy="140.28" r="1.9" fill="#1c1c1c" fill-opacity="0.42"/>
<circle cx="256.40" cy="141.10" r="1.9" fill="#1c1c1c" fill-opacity="0.42"/>
<circle cx="256.40" cy="141.95" r="1.9" fill="#1c1c1c" fill-opacity="0.42"/>
<circle cx="256.40" cy="142.85" r="1.9" fill="#1c1c1c" fill-opacity="0.42"/>
<circle cx="256.40" cy="143.47" r="1.9" fill="#1c1c1c" fill-opacity="0.42"/>
<circle cx="256.40" cy="144.30" r="1.9" fill="#1c1c1c" fill-opacity="0.42"/>
<circle cx="256.40" cy="145.11" r="1.9" fill="#1c1c1c" fill-opacity="0.42"/>
<circle cx="256.40" cy="145.73" r="1.9" fill="#1c1c1c" fill-opacity="0.42"/>
<circle cx="256.40" cy="146.62" r="1.9" fill="#1c1c1c" fill-opacity="0.42"/>
<circle cx="256.40" cy="147.55" r="1.9" fill="#1c1c1c" fill-opacity="0.42"/>
<circle cx="256.40" cy="148.19" r="1.9" fill="#1c1c1c" fill-opacity="0.42"/>
<circle cx="256.40" cy="149.11" r="1.9" fill="#1c1c1c" fill-opacity="0.42"/>
<circle cx="256.40" cy="149.83" r="1.9" fill="#1c1c1c" fill-opacity="0.42"/>
<circle cx="256.40" cy="150.57" r="1.9" fill="#1c1c1c" fill-opacity="0.42"/>
<circle cx="256.40" cy="151.50" r="1.9" fill="#1c1c1c" fill-opacity="0.42"/>
<circle cx="256.40" cy="152.38" r="1.9" fill="#1c1c1c" fill-opacity="0.42"/>
<circle cx="256.40" cy="153.00" r="1.9" fill="#1c1c1c" fill-opacity="0.42"/>
<circle cx="256.40" cy="153.73" r="1.9" fill="#1c1c1c" fill-opacity="0.42"/>
<line x1="251.20" y1="154.50" x2="261.60" y2="154.50" stroke="#464646" stroke-width="1.3"/>
<circle cx="256.40" cy="154.30" r="2.4" fill="#000"/>
<circle cx="289.70" cy="85.50" r="1.9" fill="#1c1c1c" fill-opacity="0.42"/>
<circle cx="289.70" cy="96.70" r="1.9" fill="#1c1c1c" fill-opacity="0.42"/>
<circle cx="289.70" cy="101.80" r="1.9" fill="#1c1c1c" fill-opacity="0.42"/>
<circle cx="289.70" cy="111.40" r="1.9" fill="#1c1c1c" fill-opacity="0.42"/>
<circle cx="289.70" cy="111.40" r="1.9" fill="#1c1c1c" fill-opacity="0.42"/>
<circle cx="289.70" cy="115.30" r="1.9" fill="#1c1c1c" fill-opacity="0.42"/>
<circle cx="289.70" cy="116.54" r="1.9" fill="#1c1c1c" fill-opacity="0.42"/>
<circle cx="289.70" cy="117.69" r="1.9" fill="#1c1c1c" fill-opacity="0.42"/>
<circle cx="289.70" cy="118.91" r="1.9" fill="#1c1c1c" fill-opacity="0.42"/>
<circle cx="289.70" cy="120.00" r="1.9" fill="#1c1c1c" fill-opacity="0.42"/>
<circle cx="289.70" cy="120.00" r="1.9" fill="#1c1c1c" fill-opacity="0.42"/>
<circle cx="289.70" cy="120.57" r="1.9" fill="#1c1c1c" fill-opacity="0.42"/>
<circle cx="289.70" cy="121.34" r="1.9" fill="#1c1c1c" fill-opacity="0.42"/>
<circle cx="289.70" cy="122.07" r="1.9" fill="#1c1c1c" fill-opacity="0.42"/>
<circle cx="289.70" cy="122.64" r="1.9" fill="#1c1c1c" fill-opacity="0.42"/>
<circle cx="289.70" cy="123.32" r="1.9" fill="#1c1c1c" fill-opacity="0.42"/>
<circle cx="289.70" cy="124.12" r="1.9" fill="#1c1c1c" fill-opacity="0.42"/>
<circle cx="289.70" cy="124.87" r="1.9" fill="#1c1c1c" fill-opacity="0.42"/>
<circle cx="289.70" cy="125.46" r="1.9" fill="#1c1c1c" fill-opacity="0.42"/>
<circle cx="289.70" cy="126.39" r="1.9" fill="#1c1c1c" fill-opacity="0.42"/>
<circle cx="289.70" cy="127.25" r="1.9" fill="#1c1c1c" fill-opacity="0.42"/>
<circle cx="289.70" cy="128.18" r="1.9" fill="#1c1c1c" fill-opacity="0.42"/>
<circle cx="289.70" cy="128.78" r="1.9" fill="#1c1c1c" fill-opacity="0.42"/>
<circle cx="289.70" cy="129.44" r="1.9" fill="#1c1c1c" fill-opacity="0.42"/>
<circle cx="289.70" cy="130.02" r="1.9" fill="#1c1c1c" fill-opacity="0.42"/>
<circle cx="289.70" cy="130.87" r="1.9" fill="#1c1c1c" fill-opacity="0.42"/>
<circle cx="289.70" cy="131.54" r="1.9" fill="#1c1c1c" fill-opacity="0.42"/>
<circle cx="289.70" cy="132.15" r="1.9" fill="#1c1c1c" fill-opacity="0.42"/>
<circle cx="289.70" cy="132.87" r="1.9" fill="#1c1c1c" fill-opacity="0.42"/>
<circle cx="289.70" cy="133.77" r="1.9" fill="#1c1c1c" fill-opacity="0.42"/>
<circle cx="289.70" cy="134.64" r="1.9" fill="#1c1c1c" fill-opacity="0.42"/>
<circle cx="289.70" cy="135.30" r="1.9" fill="#1c1c1c" fill-opacity="0.42"/>
<circle cx="289.70" cy="135.92" r="1.9" fill="#1c1c1c" fill-opacity="0.42"/>
<circle cx="289.70" cy="136.83" r="1.9" fill="#1c1c1c" fill-opacity="0.42"/>
<circle cx="289.70" cy="137.61" r="1.9" fill="#1c1c1c" fill-opacity="0.42"/>
<circle cx="289.70" cy="138.43" r="1.9" fill="#1c1c1c" fill-opacity="0.42"/>
<circle cx="289.70" cy="139.03" r="1.9" fill="#1c1c1c" fill-opacity="0.42"/>
<circle cx="289.70" cy="139.61" r="1.9" fill="#1c1c1c" fill-opacity="0.42"/>
<circle cx="289.70" cy="140.43" r="1.9" fill="#1c1c1c" fill-opacity="0.42"/>
<circle cx="289.70" cy="141.15" r="1.9" fill="#1c1c1c" fill-opacity="0.42"/>
<circle cx="289.70" cy="141.74" r="1.9" fill="#1c1c1c" fill-opacity="0.42"/>
<circle cx="289.70" cy="142.66" r="1.9" fill="#1c1c1c" fill-opacity="0.42"/>
<circle cx="289.70" cy="143.46" r="1.9" fill="#1c1c1c" fill-opacity="0.42"/>
<circle cx="289.70" cy="144.32" r="1.9" fill="#1c1c1c" fill-opacity="0.42"/>
<circle cx="289.70" cy="144.92" r="1.9" fill="#1c1c1c" fill-opacity="0.42"/>
<circle cx="289.70" cy="145.80" r="1.9" fill="#1c1c1c" fill-opacity="0.42"/>
<circle cx="289.70" cy="146.39" r="1.9" fill="#1c1c1c" fill-opacity="0.42"/>
<circle cx="289.70" cy="147.27" r="1.9" fill="#1c1c1c" fill-opacity="0.42"/>
<circle cx="289.70" cy="148.00" r="1.9" fill="#1c1c1c" fill-opacity="0.42"/>
<circle cx="289.70" cy="148.69" r="1.9" fill="#1c1c1c" fill-opacity="0.42"/>
<circle cx="289.70" cy="149.46" r="1.9" fill="#1c1c1c" fill-opacity="0.42"/>
<circle cx="289.70" cy="150.37" r="1.9" fill="#1c1c1c" fill-opacity="0.42"/>
<circle cx="289.70" cy="151.04" r="1.9" fill="#1c1c1c" fill-opacity="0.42"/>
<circle cx="289.70" cy="151.65" r="1.9" fill="#1c1c1c" fill-opacity="0.42"/>
<circle cx="289.70" cy="152.41" r="1.9" fill="#1c1c1c" fill-opacity="0.42"/>
<circle cx="289.70" cy="153.06" r="1.9" fill="#1c1c1c" fill-opacity="0.42"/>
<circle cx="289.70" cy="153.66" r="1.9" fill="#1c1c1c" fill-opacity="0.42"/>
<circle cx="289.70" cy="154.20" r="1.9" fill="#1c1c1c" fill-opacity="0.42"/>
<line x1="284.50" y1="154.50" x2="294.90" y2="154.50" stroke="#464646" stroke-width="1.3"/>
<circle cx="289.70" cy="154.30" r="2.4" fill="#000"/>
<line x1="323.00" y1="130.50" x2="323.00" y2="154.40" stroke="#5a5a5a" stroke-width="1"/>
<rect x="317.80" y="144.30" width="10.40" height="10.10" fill="#fbe5ae" stroke="#464646" stroke-width="1.15"/>
<circle cx="323.00" cy="39.70" r="1.9" fill="#1c1c1c" fill-opacity="0.42"/>
<circle cx="323.00" cy="47.60" r="1.9" fill="#1c1c1c" fill-opacity="0.42"/>
<circle cx="323.00" cy="52.70" r="1.9" fill="#1c1c1c" fill-opacity="0.42"/>
<circle cx="323.00" cy="52.70" r="1.9" fill="#1c1c1c" fill-opacity="0.42"/>
<circle cx="323.00" cy="62.30" r="1.9" fill="#1c1c1c" fill-opacity="0.42"/>
<circle cx="323.00" cy="63.35" r="1.9" fill="#1c1c1c" fill-opacity="0.42"/>
<circle cx="323.00" cy="64.50" r="1.9" fill="#1c1c1c" fill-opacity="0.42"/>
<circle cx="323.00" cy="65.50" r="1.9" fill="#1c1c1c" fill-opacity="0.42"/>
<circle cx="323.00" cy="68.00" r="1.9" fill="#1c1c1c" fill-opacity="0.42"/>
<circle cx="323.00" cy="69.22" r="1.9" fill="#1c1c1c" fill-opacity="0.42"/>
<circle cx="323.00" cy="70.74" r="1.9" fill="#1c1c1c" fill-opacity="0.42"/>
<circle cx="323.00" cy="71.95" r="1.9" fill="#1c1c1c" fill-opacity="0.42"/>
<circle cx="323.00" cy="76.70" r="1.9" fill="#1c1c1c" fill-opacity="0.42"/>
<circle cx="323.00" cy="77.83" r="1.9" fill="#1c1c1c" fill-opacity="0.42"/>
<circle cx="323.00" cy="79.08" r="1.9" fill="#1c1c1c" fill-opacity="0.42"/>
<circle cx="323.00" cy="80.10" r="1.9" fill="#1c1c1c" fill-opacity="0.42"/>
<circle cx="323.00" cy="81.29" r="1.9" fill="#1c1c1c" fill-opacity="0.42"/>
<circle cx="323.00" cy="82.31" r="1.9" fill="#1c1c1c" fill-opacity="0.42"/>
<circle cx="323.00" cy="83.82" r="1.9" fill="#1c1c1c" fill-opacity="0.42"/>
<circle cx="323.00" cy="85.20" r="1.9" fill="#1c1c1c" fill-opacity="0.42"/>
<circle cx="323.00" cy="86.34" r="1.9" fill="#1c1c1c" fill-opacity="0.42"/>
<circle cx="323.00" cy="87.67" r="1.9" fill="#1c1c1c" fill-opacity="0.42"/>
<circle cx="323.00" cy="89.32" r="1.9" fill="#1c1c1c" fill-opacity="0.42"/>
<circle cx="323.00" cy="90.40" r="1.9" fill="#1c1c1c" fill-opacity="0.42"/>
<circle cx="323.00" cy="91.97" r="1.9" fill="#1c1c1c" fill-opacity="0.42"/>
<circle cx="323.00" cy="92.80" r="1.9" fill="#1c1c1c" fill-opacity="0.42"/>
<circle cx="323.00" cy="92.80" r="1.9" fill="#1c1c1c" fill-opacity="0.42"/>
<circle cx="323.00" cy="93.55" r="1.9" fill="#1c1c1c" fill-opacity="0.42"/>
<circle cx="323.00" cy="94.42" r="1.9" fill="#1c1c1c" fill-opacity="0.42"/>
<circle cx="323.00" cy="95.13" r="1.9" fill="#1c1c1c" fill-opacity="0.42"/>
<circle cx="323.00" cy="95.89" r="1.9" fill="#1c1c1c" fill-opacity="0.42"/>
<circle cx="323.00" cy="96.71" r="1.9" fill="#1c1c1c" fill-opacity="0.42"/>
<circle cx="323.00" cy="97.64" r="1.9" fill="#1c1c1c" fill-opacity="0.42"/>
<circle cx="323.00" cy="98.33" r="1.9" fill="#1c1c1c" fill-opacity="0.42"/>
<circle cx="323.00" cy="99.20" r="1.9" fill="#1c1c1c" fill-opacity="0.42"/>
<circle cx="323.00" cy="100.03" r="1.9" fill="#1c1c1c" fill-opacity="0.42"/>
<circle cx="323.00" cy="100.83" r="1.9" fill="#1c1c1c" fill-opacity="0.42"/>
<circle cx="323.00" cy="101.55" r="1.9" fill="#1c1c1c" fill-opacity="0.42"/>
<circle cx="323.00" cy="102.24" r="1.9" fill="#1c1c1c" fill-opacity="0.42"/>
<circle cx="323.00" cy="102.82" r="1.9" fill="#1c1c1c" fill-opacity="0.42"/>
<circle cx="323.00" cy="103.43" r="1.9" fill="#1c1c1c" fill-opacity="0.42"/>
<circle cx="323.00" cy="104.02" r="1.9" fill="#1c1c1c" fill-opacity="0.42"/>
<circle cx="323.00" cy="104.86" r="1.9" fill="#1c1c1c" fill-opacity="0.42"/>
<circle cx="323.00" cy="105.52" r="1.9" fill="#1c1c1c" fill-opacity="0.42"/>
<circle cx="323.00" cy="106.14" r="1.9" fill="#1c1c1c" fill-opacity="0.42"/>
<circle cx="323.00" cy="106.74" r="1.9" fill="#1c1c1c" fill-opacity="0.42"/>
<circle cx="323.00" cy="107.62" r="1.9" fill="#1c1c1c" fill-opacity="0.42"/>
<circle cx="323.00" cy="108.51" r="1.9" fill="#1c1c1c" fill-opacity="0.42"/>
<circle cx="323.00" cy="109.32" r="1.9" fill="#1c1c1c" fill-opacity="0.42"/>
<circle cx="323.00" cy="109.99" r="1.9" fill="#1c1c1c" fill-opacity="0.42"/>
<circle cx="323.00" cy="110.64" r="1.9" fill="#1c1c1c" fill-opacity="0.42"/>
<circle cx="323.00" cy="111.31" r="1.9" fill="#1c1c1c" fill-opacity="0.42"/>
<circle cx="323.00" cy="112.05" r="1.9" fill="#1c1c1c" fill-opacity="0.42"/>
<circle cx="323.00" cy="112.67" r="1.9" fill="#1c1c1c" fill-opacity="0.42"/>
<circle cx="323.00" cy="113.40" r="1.9" fill="#1c1c1c" fill-opacity="0.42"/>
<circle cx="323.00" cy="114.06" r="1.9" fill="#1c1c1c" fill-opacity="0.42"/>
<circle cx="323.00" cy="114.98" r="1.9" fill="#1c1c1c" fill-opacity="0.42"/>
<circle cx="323.00" cy="115.91" r="1.9" fill="#1c1c1c" fill-opacity="0.42"/>
<circle cx="323.00" cy="116.68" r="1.9" fill="#1c1c1c" fill-opacity="0.42"/>
<circle cx="323.00" cy="117.33" r="1.9" fill="#1c1c1c" fill-opacity="0.42"/>
<circle cx="323.00" cy="118.26" r="1.9" fill="#1c1c1c" fill-opacity="0.42"/>
<circle cx="323.00" cy="118.94" r="1.9" fill="#1c1c1c" fill-opacity="0.42"/>
<circle cx="323.00" cy="119.63" r="1.9" fill="#1c1c1c" fill-opacity="0.42"/>
<circle cx="323.00" cy="120.19" r="1.9" fill="#1c1c1c" fill-opacity="0.42"/>
<circle cx="323.00" cy="120.90" r="1.9" fill="#1c1c1c" fill-opacity="0.42"/>
<circle cx="323.00" cy="121.64" r="1.9" fill="#1c1c1c" fill-opacity="0.42"/>
<circle cx="323.00" cy="122.39" r="1.9" fill="#1c1c1c" fill-opacity="0.42"/>
<circle cx="323.00" cy="123.03" r="1.9" fill="#1c1c1c" fill-opacity="0.42"/>
<circle cx="323.00" cy="123.78" r="1.9" fill="#1c1c1c" fill-opacity="0.42"/>
<circle cx="323.00" cy="124.35" r="1.9" fill="#1c1c1c" fill-opacity="0.42"/>
<circle cx="323.00" cy="125.01" r="1.9" fill="#1c1c1c" fill-opacity="0.42"/>
<circle cx="323.00" cy="125.60" r="1.9" fill="#1c1c1c" fill-opacity="0.42"/>
<circle cx="323.00" cy="126.32" r="1.9" fill="#1c1c1c" fill-opacity="0.42"/>
<circle cx="323.00" cy="126.89" r="1.9" fill="#1c1c1c" fill-opacity="0.42"/>
<circle cx="323.00" cy="127.47" r="1.9" fill="#1c1c1c" fill-opacity="0.42"/>
<circle cx="323.00" cy="128.14" r="1.9" fill="#1c1c1c" fill-opacity="0.42"/>
<circle cx="323.00" cy="128.79" r="1.9" fill="#1c1c1c" fill-opacity="0.42"/>
<circle cx="323.00" cy="129.57" r="1.9" fill="#1c1c1c" fill-opacity="0.42"/>
<circle cx="323.00" cy="152.10" r="2.4" fill="#000"/>
<text x="56.50" y="35.70" font-size="11" text-anchor="middle" >h</text>
<text x="89.90" y="33.90" font-size="11" text-anchor="middle" >g</text>
<text x="123.50" y="35.70" font-size="11" text-anchor="middle" >f</text>
<text x="156.50" y="35.70" font-size="11" text-anchor="middle" >e</text>
<text x="189.80" y="35.70" font-size="11" text-anchor="middle" >c</text>
<text x="223.10" y="57.20" font-size="11" text-anchor="middle" >b</text>
<text x="256.40" y="41.70" font-size="11" text-anchor="middle" >a</text>
<text x="289.70" y="73.40" font-size="11" text-anchor="middle" >a</text>
<text x="323.00" y="35.70" font-size="11" text-anchor="middle" >d</text>
<text x="191.00" y="29.30" font-size="14" text-anchor="middle">***</text>
<line x1="36.95" y1="16.90" x2="343.00" y2="16.90" stroke="#5e5e5e" stroke-width="1.5" stroke-linecap="square"/>
<line x1="343.00" y1="16.90" x2="343.00" y2="165.90" stroke="#5e5e5e" stroke-width="1.5" stroke-linecap="square"/>
<line x1="36.95" y1="16.90" x2="36.95" y2="165.90" stroke="#5a5a5a" stroke-width="1.5" stroke-linecap="square"/>
<line x1="36.95" y1="165.90" x2="343.00" y2="165.90" stroke="#858585" stroke-width="1.6" stroke-linecap="square"/>
<text class="xl" x="0" y="4.14" font-size="11.5" text-anchor="middle" transform="translate(60.30 178.70) scale(0.93 1) rotate(-19)">Transparent</text>
<text class="xl" x="0" y="4.14" font-size="11.5" text-anchor="middle" transform="translate(93.80 178.70) scale(0.93 1) rotate(-19)">Black</text>
<text class="xl" x="0" y="4.14" font-size="11.5" text-anchor="middle" transform="translate(125.30 178.70) scale(0.93 1) rotate(-19)">Blue</text>
<text class="xl" x="0" y="4.14" font-size="11.5" text-anchor="middle" transform="translate(157.50 178.70) scale(0.93 1) rotate(-19)">Red</text>
<text class="xl" x="0" y="4.14" font-size="11.5" text-anchor="middle" transform="translate(192.60 178.70) scale(0.93 1) rotate(-19)">Green</text>
<text class="xl" x="0" y="4.14" font-size="11.5" text-anchor="middle" transform="translate(225.40 178.70) scale(0.93 1) rotate(-19)">Yellow</text>
<text class="xl" x="0" y="4.14" font-size="11.5" text-anchor="middle" transform="translate(259.00 178.70) scale(0.93 1) rotate(-19)">Brown</text>
<text class="xl" x="0" y="4.14" font-size="11.5" text-anchor="middle" transform="translate(290.80 178.70) scale(0.93 1) rotate(-19)">Purple</text>
<text class="xl" x="0" y="4.14" font-size="11.5" text-anchor="middle" transform="translate(323.80 178.70) scale(0.93 1) rotate(-19)">Other</text>
<text x="379.30" y="10.30" font-size="14" text-anchor="start" >b</text>
<line x1="379.3" y1="131.54" x2="380.90" y2="131.54" stroke="#555555" stroke-width="1.4"/>
<line x1="379.3" y1="108.58" x2="380.90" y2="108.58" stroke="#555555" stroke-width="1.4"/>
<line x1="379.3" y1="85.62" x2="380.90" y2="85.62" stroke="#555555" stroke-width="1.4"/>
<line x1="379.3" y1="62.66" x2="380.90" y2="62.66" stroke="#555555" stroke-width="1.4"/>
<line x1="379.3" y1="39.70" x2="380.90" y2="39.70" stroke="#555555" stroke-width="1.4"/>
<line x1="408.50" y1="165.7" x2="408.50" y2="163.40" stroke="#666666" stroke-width="1.5"/>
<line x1="457.92" y1="165.7" x2="457.92" y2="163.40" stroke="#666666" stroke-width="1.5"/>
<line x1="507.34" y1="165.7" x2="507.34" y2="163.40" stroke="#666666" stroke-width="1.5"/>
<line x1="556.76" y1="165.7" x2="556.76" y2="163.40" stroke="#666666" stroke-width="1.5"/>
<line x1="606.18" y1="165.7" x2="606.18" y2="163.40" stroke="#666666" stroke-width="1.5"/>
<line x1="655.60" y1="165.7" x2="655.60" y2="163.40" stroke="#666666" stroke-width="1.5"/>
<line x1="408.50" y1="40.60" x2="408.50" y2="153.90" stroke="#5a5a5a" stroke-width="1"/>
<rect x="402.70" y="62.35" width="11.60" height="56.85" fill="#bedbcf" stroke="#464646" stroke-width="1.15"/>
<line x1="402.70" y1="90.50" x2="414.30" y2="90.50" stroke="#464646" stroke-width="1.8"/>
<circle cx="408.50" cy="110.50" r="2.4" fill="#000"/>
<line x1="457.92" y1="50.70" x2="457.92" y2="154.40" stroke="#5a5a5a" stroke-width="1"/>
<rect x="452.12" y="108.50" width="11.60" height="39.00" fill="#bedbcf" stroke="#464646" stroke-width="1.15"/>
<line x1="452.12" y1="133.20" x2="463.72" y2="133.20" stroke="#464646" stroke-width="1.8"/>
<circle cx="457.92" cy="139.50" r="2.4" fill="#000"/>
<line x1="457.92" y1="40.20" x2="457.92" y2="50.70" stroke="#383838" stroke-width="3.90" stroke-linecap="round"/>
<line x1="507.34" y1="108.50" x2="507.34" y2="154.40" stroke="#5a5a5a" stroke-width="1"/>
<rect x="501.54" y="135.60" width="11.60" height="18.80" fill="#bedbcf" stroke="#464646" stroke-width="1.15"/>
<line x1="501.54" y1="150.00" x2="513.14" y2="150.00" stroke="#464646" stroke-width="1.8"/>
<circle cx="507.34" cy="150.00" r="2.4" fill="#000"/>
<circle cx="507.34" cy="39.40" r="1.9" fill="#1c1c1c" fill-opacity="0.42"/>
<circle cx="507.34" cy="39.40" r="1.9" fill="#1c1c1c" fill-opacity="0.42"/>
<circle cx="507.34" cy="39.40" r="1.9" fill="#1c1c1c" fill-opacity="0.42"/>
<circle cx="507.34" cy="44.50" r="1.9" fill="#1c1c1c" fill-opacity="0.42"/>
<circle cx="507.34" cy="47.43" r="1.9" fill="#1c1c1c" fill-opacity="0.42"/>
<circle cx="507.34" cy="50.23" r="1.9" fill="#1c1c1c" fill-opacity="0.42"/>
<circle cx="507.34" cy="51.70" r="1.9" fill="#1c1c1c" fill-opacity="0.42"/>
<circle cx="507.34" cy="51.70" r="1.9" fill="#1c1c1c" fill-opacity="0.42"/>
<circle cx="507.34" cy="53.31" r="1.9" fill="#1c1c1c" fill-opacity="0.42"/>
<circle cx="507.34" cy="54.58" r="1.9" fill="#1c1c1c" fill-opacity="0.42"/>
<circle cx="507.34" cy="55.81" r="1.9" fill="#1c1c1c" fill-opacity="0.42"/>
<circle cx="507.34" cy="57.49" r="1.9" fill="#1c1c1c" fill-opacity="0.42"/>
<circle cx="507.34" cy="58.60" r="1.9" fill="#1c1c1c" fill-opacity="0.42"/>
<circle cx="507.34" cy="60.11" r="1.9" fill="#1c1c1c" fill-opacity="0.42"/>
<circle cx="507.34" cy="61.55" r="1.9" fill="#1c1c1c" fill-opacity="0.42"/>
<circle cx="507.34" cy="62.59" r="1.9" fill="#1c1c1c" fill-opacity="0.42"/>
<circle cx="507.34" cy="64.00" r="1.9" fill="#1c1c1c" fill-opacity="0.42"/>
<circle cx="507.34" cy="64.00" r="1.9" fill="#1c1c1c" fill-opacity="0.42"/>
<circle cx="507.34" cy="64.90" r="1.9" fill="#1c1c1c" fill-opacity="0.42"/>
<circle cx="507.34" cy="65.69" r="1.9" fill="#1c1c1c" fill-opacity="0.42"/>
<circle cx="507.34" cy="66.53" r="1.9" fill="#1c1c1c" fill-opacity="0.42"/>
<circle cx="507.34" cy="67.40" r="1.9" fill="#1c1c1c" fill-opacity="0.42"/>
<circle cx="507.34" cy="68.01" r="1.9" fill="#1c1c1c" fill-opacity="0.42"/>
<circle cx="507.34" cy="68.77" r="1.9" fill="#1c1c1c" fill-opacity="0.42"/>
<circle cx="507.34" cy="69.52" r="1.9" fill="#1c1c1c" fill-opacity="0.42"/>
<circle cx="507.34" cy="70.40" r="1.9" fill="#1c1c1c" fill-opacity="0.42"/>
<circle cx="507.34" cy="71.26" r="1.9" fill="#1c1c1c" fill-opacity="0.42"/>
<circle cx="507.34" cy="72.14" r="1.9" fill="#1c1c1c" fill-opacity="0.42"/>
<circle cx="507.34" cy="72.92" r="1.9" fill="#1c1c1c" fill-opacity="0.42"/>
<circle cx="507.34" cy="73.82" r="1.9" fill="#1c1c1c" fill-opacity="0.42"/>
<circle cx="507.34" cy="74.63" r="1.9" fill="#1c1c1c" fill-opacity="0.42"/>
<circle cx="507.34" cy="75.46" r="1.9" fill="#1c1c1c" fill-opacity="0.42"/>
<circle cx="507.34" cy="76.11" r="1.9" fill="#1c1c1c" fill-opacity="0.42"/>
<circle cx="507.34" cy="76.68" r="1.9" fill="#1c1c1c" fill-opacity="0.42"/>
<circle cx="507.34" cy="77.29" r="1.9" fill="#1c1c1c" fill-opacity="0.42"/>
<circle cx="507.34" cy="77.99" r="1.9" fill="#1c1c1c" fill-opacity="0.42"/>
<circle cx="507.34" cy="78.59" r="1.9" fill="#1c1c1c" fill-opacity="0.42"/>
<circle cx="507.34" cy="79.47" r="1.9" fill="#1c1c1c" fill-opacity="0.42"/>
<circle cx="507.34" cy="80.24" r="1.9" fill="#1c1c1c" fill-opacity="0.42"/>
<circle cx="507.34" cy="81.04" r="1.9" fill="#1c1c1c" fill-opacity="0.42"/>
<circle cx="507.34" cy="81.84" r="1.9" fill="#1c1c1c" fill-opacity="0.42"/>
<circle cx="507.34" cy="82.65" r="1.9" fill="#1c1c1c" fill-opacity="0.42"/>
<circle cx="507.34" cy="83.40" r="1.9" fill="#1c1c1c" fill-opacity="0.42"/>
<circle cx="507.34" cy="83.96" r="1.9" fill="#1c1c1c" fill-opacity="0.42"/>
<circle cx="507.34" cy="84.82" r="1.9" fill="#1c1c1c" fill-opacity="0.42"/>
<circle cx="507.34" cy="85.67" r="1.9" fill="#1c1c1c" fill-opacity="0.42"/>
<circle cx="507.34" cy="86.42" r="1.9" fill="#1c1c1c" fill-opacity="0.42"/>
<circle cx="507.34" cy="87.18" r="1.9" fill="#1c1c1c" fill-opacity="0.42"/>
<circle cx="507.34" cy="87.99" r="1.9" fill="#1c1c1c" fill-opacity="0.42"/>
<circle cx="507.34" cy="88.58" r="1.9" fill="#1c1c1c" fill-opacity="0.42"/>
<circle cx="507.34" cy="89.42" r="1.9" fill="#1c1c1c" fill-opacity="0.42"/>
<circle cx="507.34" cy="90.07" r="1.9" fill="#1c1c1c" fill-opacity="0.42"/>
<circle cx="507.34" cy="90.66" r="1.9" fill="#1c1c1c" fill-opacity="0.42"/>
<circle cx="507.34" cy="91.33" r="1.9" fill="#1c1c1c" fill-opacity="0.42"/>
<circle cx="507.34" cy="92.16" r="1.9" fill="#1c1c1c" fill-opacity="0.42"/>
<circle cx="507.34" cy="92.80" r="1.9" fill="#1c1c1c" fill-opacity="0.42"/>
<circle cx="507.34" cy="93.64" r="1.9" fill="#1c1c1c" fill-opacity="0.42"/>
<circle cx="507.34" cy="94.57" r="1.9" fill="#1c1c1c" fill-opacity="0.42"/>
<circle cx="507.34" cy="95.32" r="1.9" fill="#1c1c1c" fill-opacity="0.42"/>
<circle cx="507.34" cy="96.02" r="1.9" fill="#1c1c1c" fill-opacity="0.42"/>
<circle cx="507.34" cy="96.77" r="1.9" fill="#1c1c1c" fill-opacity="0.42"/>
<circle cx="507.34" cy="97.59" r="1.9" fill="#1c1c1c" fill-opacity="0.42"/>
<circle cx="507.34" cy="98.44" r="1.9" fill="#1c1c1c" fill-opacity="0.42"/>
<circle cx="507.34" cy="99.23" r="1.9" fill="#1c1c1c" fill-opacity="0.42"/>
<circle cx="507.34" cy="100.03" r="1.9" fill="#1c1c1c" fill-opacity="0.42"/>
<circle cx="507.34" cy="100.62" r="1.9" fill="#1c1c1c" fill-opacity="0.42"/>
<circle cx="507.34" cy="101.24" r="1.9" fill="#1c1c1c" fill-opacity="0.42"/>
<circle cx="507.34" cy="101.90" r="1.9" fill="#1c1c1c" fill-opacity="0.42"/>
<circle cx="507.34" cy="102.74" r="1.9" fill="#1c1c1c" fill-opacity="0.42"/>
<circle cx="507.34" cy="103.42" r="1.9" fill="#1c1c1c" fill-opacity="0.42"/>
<circle cx="507.34" cy="104.19" r="1.9" fill="#1c1c1c" fill-opacity="0.42"/>
<circle cx="507.34" cy="104.76" r="1.9" fill="#1c1c1c" fill-opacity="0.42"/>
<circle cx="507.34" cy="105.35" r="1.9" fill="#1c1c1c" fill-opacity="0.42"/>
<circle cx="507.34" cy="106.01" r="1.9" fill="#1c1c1c" fill-opacity="0.42"/>
<circle cx="507.34" cy="106.82" r="1.9" fill="#1c1c1c" fill-opacity="0.42"/>
<circle cx="507.34" cy="107.65" r="1.9" fill="#1c1c1c" fill-opacity="0.42"/>
<circle cx="507.34" cy="108.46" r="1.9" fill="#1c1c1c" fill-opacity="0.42"/>
<line x1="556.76" y1="139.40" x2="556.76" y2="154.40" stroke="#5a5a5a" stroke-width="1"/>
<rect x="550.96" y="148.50" width="11.60" height="5.90" fill="#bedbcf" stroke="#464646" stroke-width="1.15"/>
<circle cx="556.76" cy="39.70" r="1.9" fill="#1c1c1c" fill-opacity="0.42"/>
<circle cx="556.76" cy="39.70" r="1.9" fill="#1c1c1c" fill-opacity="0.42"/>
<circle cx="556.76" cy="39.70" r="1.9" fill="#1c1c1c" fill-opacity="0.42"/>
<circle cx="556.76" cy="46.90" r="1.9" fill="#1c1c1c" fill-opacity="0.42"/>
<circle cx="556.76" cy="48.26" r="1.9" fill="#1c1c1c" fill-opacity="0.42"/>
<circle cx="556.76" cy="49.59" r="1.9" fill="#1c1c1c" fill-opacity="0.42"/>
<circle cx="556.76" cy="53.00" r="1.9" fill="#1c1c1c" fill-opacity="0.42"/>
<circle cx="556.76" cy="55.10" r="1.9" fill="#1c1c1c" fill-opacity="0.42"/>
<circle cx="556.76" cy="58.22" r="1.9" fill="#1c1c1c" fill-opacity="0.42"/>
<circle cx="556.76" cy="60.42" r="1.9" fill="#1c1c1c" fill-opacity="0.42"/>
<circle cx="556.76" cy="62.30" r="1.9" fill="#1c1c1c" fill-opacity="0.42"/>
<circle cx="556.76" cy="64.40" r="1.9" fill="#1c1c1c" fill-opacity="0.42"/>
<circle cx="556.76" cy="65.31" r="1.9" fill="#1c1c1c" fill-opacity="0.42"/>
<circle cx="556.76" cy="65.88" r="1.9" fill="#1c1c1c" fill-opacity="0.42"/>
<circle cx="556.76" cy="66.62" r="1.9" fill="#1c1c1c" fill-opacity="0.42"/>
<circle cx="556.76" cy="67.49" r="1.9" fill="#1c1c1c" fill-opacity="0.42"/>
<circle cx="556.76" cy="68.41" r="1.9" fill="#1c1c1c" fill-opacity="0.42"/>
<circle cx="556.76" cy="69.14" r="1.9" fill="#1c1c1c" fill-opacity="0.42"/>
<circle cx="556.76" cy="69.81" r="1.9" fill="#1c1c1c" fill-opacity="0.42"/>
<circle cx="556.76" cy="70.45" r="1.9" fill="#1c1c1c" fill-opacity="0.42"/>
<circle cx="556.76" cy="71.37" r="1.9" fill="#1c1c1c" fill-opacity="0.42"/>
<circle cx="556.76" cy="72.01" r="1.9" fill="#1c1c1c" fill-opacity="0.42"/>
<circle cx="556.76" cy="72.79" r="1.9" fill="#1c1c1c" fill-opacity="0.42"/>
<circle cx="556.76" cy="73.40" r="1.9" fill="#1c1c1c" fill-opacity="0.42"/>
<circle cx="556.76" cy="74.16" r="1.9" fill="#1c1c1c" fill-opacity="0.42"/>
<circle cx="556.76" cy="75.08" r="1.9" fill="#1c1c1c" fill-opacity="0.42"/>
<circle cx="556.76" cy="75.69" r="1.9" fill="#1c1c1c" fill-opacity="0.42"/>
<circle cx="556.76" cy="76.56" r="1.9" fill="#1c1c1c" fill-opacity="0.42"/>
<circle cx="556.76" cy="77.32" r="1.9" fill="#1c1c1c" fill-opacity="0.42"/>
<circle cx="556.76" cy="78.21" r="1.9" fill="#1c1c1c" fill-opacity="0.42"/>
<circle cx="556.76" cy="79.04" r="1.9" fill="#1c1c1c" fill-opacity="0.42"/>
<circle cx="556.76" cy="79.69" r="1.9" fill="#1c1c1c" fill-opacity="0.42"/>
<circle cx="556.76" cy="80.59" r="1.9" fill="#1c1c1c" fill-opacity="0.42"/>
<circle cx="556.76" cy="81.33" r="1.9" fill="#1c1c1c" fill-opacity="0.42"/>
<circle cx="556.76" cy="81.90" r="1.9" fill="#1c1c1c" fill-opacity="0.42"/>
<circle cx="556.76" cy="82.47" r="1.9" fill="#1c1c1c" fill-opacity="0.42"/>
<circle cx="556.76" cy="83.21" r="1.9" fill="#1c1c1c" fill-opacity="0.42"/>
<circle cx="556.76" cy="83.95" r="1.9" fill="#1c1c1c" fill-opacity="0.42"/>
<circle cx="556.76" cy="84.62" r="1.9" fill="#1c1c1c" fill-opacity="0.42"/>
<circle cx="556.76" cy="85.24" r="1.9" fill="#1c1c1c" fill-opacity="0.42"/>
<circle cx="556.76" cy="85.93" r="1.9" fill="#1c1c1c" fill-opacity="0.42"/>
<circle cx="556.76" cy="86.61" r="1.9" fill="#1c1c1c" fill-opacity="0.42"/>
<circle cx="556.76" cy="87.49" r="1.9" fill="#1c1c1c" fill-opacity="0.42"/>
<circle cx="556.76" cy="88.05" r="1.9" fill="#1c1c1c" fill-opacity="0.42"/>
<circle cx="556.76" cy="88.89" r="1.9" fill="#1c1c1c" fill-opacity="0.42"/>
<circle cx="556.76" cy="89.77" r="1.9" fill="#1c1c1c" fill-opacity="0.42"/>
<circle cx="556.76" cy="90.38" r="1.9" fill="#1c1c1c" fill-opacity="0.42"/>
<circle cx="556.76" cy="91.29" r="1.9" fill="#1c1c1c" fill-opacity="0.42"/>
<circle cx="556.76" cy="92.12" r="1.9" fill="#1c1c1c" fill-opacity="0.42"/>
<circle cx="556.76" cy="93.02" r="1.9" fill="#1c1c1c" fill-opacity="0.42"/>
<circle cx="556.76" cy="93.69" r="1.9" fill="#1c1c1c" fill-opacity="0.42"/>
<circle cx="556.76" cy="94.39" r="1.9" fill="#1c1c1c" fill-opacity="0.42"/>
<circle cx="556.76" cy="95.10" r="1.9" fill="#1c1c1c" fill-opacity="0.42"/>
<circle cx="556.76" cy="96.04" r="1.9" fill="#1c1c1c" fill-opacity="0.42"/>
<circle cx="556.76" cy="96.82" r="1.9" fill="#1c1c1c" fill-opacity="0.42"/>
<circle cx="556.76" cy="97.52" r="1.9" fill="#1c1c1c" fill-opacity="0.42"/>
<circle cx="556.76" cy="98.24" r="1.9" fill="#1c1c1c" fill-opacity="0.42"/>
<circle cx="556.76" cy="98.91" r="1.9" fill="#1c1c1c" fill-opacity="0.42"/>
<circle cx="556.76" cy="99.49" r="1.9" fill="#1c1c1c" fill-opacity="0.42"/>
<circle cx="556.76" cy="100.09" r="1.9" fill="#1c1c1c" fill-opacity="0.42"/>
<circle cx="556.76" cy="100.97" r="1.9" fill="#1c1c1c" fill-opacity="0.42"/>
<circle cx="556.76" cy="101.64" r="1.9" fill="#1c1c1c" fill-opacity="0.42"/>
<circle cx="556.76" cy="102.55" r="1.9" fill="#1c1c1c" fill-opacity="0.42"/>
<circle cx="556.76" cy="103.21" r="1.9" fill="#1c1c1c" fill-opacity="0.42"/>
<circle cx="556.76" cy="103.87" r="1.9" fill="#1c1c1c" fill-opacity="0.42"/>
<circle cx="556.76" cy="104.62" r="1.9" fill="#1c1c1c" fill-opacity="0.42"/>
<circle cx="556.76" cy="105.26" r="1.9" fill="#1c1c1c" fill-opacity="0.42"/>
<circle cx="556.76" cy="105.96" r="1.9" fill="#1c1c1c" fill-opacity="0.42"/>
<circle cx="556.76" cy="106.88" r="1.9" fill="#1c1c1c" fill-opacity="0.42"/>
<circle cx="556.76" cy="107.77" r="1.9" fill="#1c1c1c" fill-opacity="0.42"/>
<circle cx="556.76" cy="108.64" r="1.9" fill="#1c1c1c" fill-opacity="0.42"/>
<circle cx="556.76" cy="109.44" r="1.9" fill="#1c1c1c" fill-opacity="0.42"/>
<circle cx="556.76" cy="110.34" r="1.9" fill="#1c1c1c" fill-opacity="0.42"/>
<circle cx="556.76" cy="111.26" r="1.9" fill="#1c1c1c" fill-opacity="0.42"/>
<circle cx="556.76" cy="112.03" r="1.9" fill="#1c1c1c" fill-opacity="0.42"/>
<circle cx="556.76" cy="112.86" r="1.9" fill="#1c1c1c" fill-opacity="0.42"/>
<circle cx="556.76" cy="113.44" r="1.9" fill="#1c1c1c" fill-opacity="0.42"/>
<circle cx="556.76" cy="114.28" r="1.9" fill="#1c1c1c" fill-opacity="0.42"/>
<circle cx="556.76" cy="115.01" r="1.9" fill="#1c1c1c" fill-opacity="0.42"/>
<circle cx="556.76" cy="115.85" r="1.9" fill="#1c1c1c" fill-opacity="0.42"/>
<circle cx="556.76" cy="116.66" r="1.9" fill="#1c1c1c" fill-opacity="0.42"/>
<circle cx="556.76" cy="117.33" r="1.9" fill="#1c1c1c" fill-opacity="0.42"/>
<circle cx="556.76" cy="117.91" r="1.9" fill="#1c1c1c" fill-opacity="0.42"/>
<circle cx="556.76" cy="118.82" r="1.9" fill="#1c1c1c" fill-opacity="0.42"/>
<circle cx="556.76" cy="119.43" r="1.9" fill="#1c1c1c" fill-opacity="0.42"/>
<circle cx="556.76" cy="120.17" r="1.9" fill="#1c1c1c" fill-opacity="0.42"/>
<circle cx="556.76" cy="120.86" r="1.9" fill="#1c1c1c" fill-opacity="0.42"/>
<circle cx="556.76" cy="121.53" r="1.9" fill="#1c1c1c" fill-opacity="0.42"/>
<circle cx="556.76" cy="122.37" r="1.9" fill="#1c1c1c" fill-opacity="0.42"/>
<circle cx="556.76" cy="123.30" r="1.9" fill="#1c1c1c" fill-opacity="0.42"/>
<circle cx="556.76" cy="123.96" r="1.9" fill="#1c1c1c" fill-opacity="0.42"/>
<circle cx="556.76" cy="124.77" r="1.9" fill="#1c1c1c" fill-opacity="0.42"/>
<circle cx="556.76" cy="125.45" r="1.9" fill="#1c1c1c" fill-opacity="0.42"/>
<circle cx="556.76" cy="126.22" r="1.9" fill="#1c1c1c" fill-opacity="0.42"/>
<circle cx="556.76" cy="126.93" r="1.9" fill="#1c1c1c" fill-opacity="0.42"/>
<circle cx="556.76" cy="127.55" r="1.9" fill="#1c1c1c" fill-opacity="0.42"/>
<circle cx="556.76" cy="128.18" r="1.9" fill="#1c1c1c" fill-opacity="0.42"/>
<circle cx="556.76" cy="128.82" r="1.9" fill="#1c1c1c" fill-opacity="0.42"/>
<circle cx="556.76" cy="129.72" r="1.9" fill="#1c1c1c" fill-opacity="0.42"/>
<circle cx="556.76" cy="130.47" r="1.9" fill="#1c1c1c" fill-opacity="0.42"/>
<circle cx="556.76" cy="131.11" r="1.9" fill="#1c1c1c" fill-opacity="0.42"/>
<circle cx="556.76" cy="132.02" r="1.9" fill="#1c1c1c" fill-opacity="0.42"/>
<circle cx="556.76" cy="132.95" r="1.9" fill="#1c1c1c" fill-opacity="0.42"/>
<circle cx="556.76" cy="133.68" r="1.9" fill="#1c1c1c" fill-opacity="0.42"/>
<circle cx="556.76" cy="134.30" r="1.9" fill="#1c1c1c" fill-opacity="0.42"/>
<circle cx="556.76" cy="134.93" r="1.9" fill="#1c1c1c" fill-opacity="0.42"/>
<circle cx="556.76" cy="135.53" r="1.9" fill="#1c1c1c" fill-opacity="0.42"/>
<circle cx="556.76" cy="136.22" r="1.9" fill="#1c1c1c" fill-opacity="0.42"/>
<circle cx="556.76" cy="136.82" r="1.9" fill="#1c1c1c" fill-opacity="0.42"/>
<circle cx="556.76" cy="137.47" r="1.9" fill="#1c1c1c" fill-opacity="0.42"/>
<circle cx="556.76" cy="138.13" r="1.9" fill="#1c1c1c" fill-opacity="0.42"/>
<circle cx="556.76" cy="138.90" r="1.9" fill="#1c1c1c" fill-opacity="0.42"/>
<circle cx="556.76" cy="152.10" r="2.4" fill="#000"/>
<circle cx="606.18" cy="39.30" r="1.9" fill="#1c1c1c" fill-opacity="0.42"/>
<circle cx="606.18" cy="39.30" r="1.9" fill="#1c1c1c" fill-opacity="0.42"/>
<circle cx="606.18" cy="39.30" r="1.9" fill="#1c1c1c" fill-opacity="0.42"/>
<circle cx="606.18" cy="44.00" r="1.9" fill="#1c1c1c" fill-opacity="0.42"/>
<circle cx="606.18" cy="60.20" r="1.9" fill="#1c1c1c" fill-opacity="0.42"/>
<circle cx="606.18" cy="68.00" r="1.9" fill="#1c1c1c" fill-opacity="0.42"/>
<circle cx="606.18" cy="69.52" r="1.9" fill="#1c1c1c" fill-opacity="0.42"/>
<circle cx="606.18" cy="70.81" r="1.9" fill="#1c1c1c" fill-opacity="0.42"/>
<circle cx="606.18" cy="72.10" r="1.9" fill="#1c1c1c" fill-opacity="0.42"/>
<circle cx="606.18" cy="73.20" r="1.9" fill="#1c1c1c" fill-opacity="0.42"/>
<circle cx="606.18" cy="78.30" r="1.9" fill="#1c1c1c" fill-opacity="0.42"/>
<circle cx="606.18" cy="78.30" r="1.9" fill="#1c1c1c" fill-opacity="0.42"/>
<circle cx="606.18" cy="82.40" r="1.9" fill="#1c1c1c" fill-opacity="0.42"/>
<circle cx="606.18" cy="83.67" r="1.9" fill="#1c1c1c" fill-opacity="0.42"/>
<circle cx="606.18" cy="84.91" r="1.9" fill="#1c1c1c" fill-opacity="0.42"/>
<circle cx="606.18" cy="85.96" r="1.9" fill="#1c1c1c" fill-opacity="0.42"/>
<circle cx="606.18" cy="87.16" r="1.9" fill="#1c1c1c" fill-opacity="0.42"/>
<circle cx="606.18" cy="88.83" r="1.9" fill="#1c1c1c" fill-opacity="0.42"/>
<circle cx="606.18" cy="89.93" r="1.9" fill="#1c1c1c" fill-opacity="0.42"/>
<circle cx="606.18" cy="91.28" r="1.9" fill="#1c1c1c" fill-opacity="0.42"/>
<circle cx="606.18" cy="92.71" r="1.9" fill="#1c1c1c" fill-opacity="0.42"/>
<circle cx="606.18" cy="94.31" r="1.9" fill="#1c1c1c" fill-opacity="0.42"/>
<circle cx="606.18" cy="95.47" r="1.9" fill="#1c1c1c" fill-opacity="0.42"/>
<circle cx="606.18" cy="96.66" r="1.9" fill="#1c1c1c" fill-opacity="0.42"/>
<circle cx="606.18" cy="97.84" r="1.9" fill="#1c1c1c" fill-opacity="0.42"/>
<circle cx="606.18" cy="99.13" r="1.9" fill="#1c1c1c" fill-opacity="0.42"/>
<circle cx="606.18" cy="100.00" r="1.9" fill="#1c1c1c" fill-opacity="0.42"/>
<circle cx="606.18" cy="100.00" r="1.9" fill="#1c1c1c" fill-opacity="0.42"/>
<circle cx="606.18" cy="100.92" r="1.9" fill="#1c1c1c" fill-opacity="0.42"/>
<circle cx="606.18" cy="101.80" r="1.9" fill="#1c1c1c" fill-opacity="0.42"/>
<circle cx="606.18" cy="102.69" r="1.9" fill="#1c1c1c" fill-opacity="0.42"/>
<circle cx="606.18" cy="103.26" r="1.9" fill="#1c1c1c" fill-opacity="0.42"/>
<circle cx="606.18" cy="103.84" r="1.9" fill="#1c1c1c" fill-opacity="0.42"/>
<circle cx="606.18" cy="104.66" r="1.9" fill="#1c1c1c" fill-opacity="0.42"/>
<circle cx="606.18" cy="105.56" r="1.9" fill="#1c1c1c" fill-opacity="0.42"/>
<circle cx="606.18" cy="106.30" r="1.9" fill="#1c1c1c" fill-opacity="0.42"/>
<circle cx="606.18" cy="107.09" r="1.9" fill="#1c1c1c" fill-opacity="0.42"/>
<circle cx="606.18" cy="107.65" r="1.9" fill="#1c1c1c" fill-opacity="0.42"/>
<circle cx="606.18" cy="108.36" r="1.9" fill="#1c1c1c" fill-opacity="0.42"/>
<circle cx="606.18" cy="109.27" r="1.9" fill="#1c1c1c" fill-opacity="0.42"/>
<circle cx="606.18" cy="110.14" r="1.9" fill="#1c1c1c" fill-opacity="0.42"/>
<circle cx="606.18" cy="111.02" r="1.9" fill="#1c1c1c" fill-opacity="0.42"/>
<circle cx="606.18" cy="111.95" r="1.9" fill="#1c1c1c" fill-opacity="0.42"/>
<circle cx="606.18" cy="112.61" r="1.9" fill="#1c1c1c" fill-opacity="0.42"/>
<circle cx="606.18" cy="113.21" r="1.9" fill="#1c1c1c" fill-opacity="0.42"/>
<circle cx="606.18" cy="113.83" r="1.9" fill="#1c1c1c" fill-opacity="0.42"/>
<circle cx="606.18" cy="114.59" r="1.9" fill="#1c1c1c" fill-opacity="0.42"/>
<circle cx="606.18" cy="115.41" r="1.9" fill="#1c1c1c" fill-opacity="0.42"/>
<circle cx="606.18" cy="116.32" r="1.9" fill="#1c1c1c" fill-opacity="0.42"/>
<circle cx="606.18" cy="117.15" r="1.9" fill="#1c1c1c" fill-opacity="0.42"/>
<circle cx="606.18" cy="117.96" r="1.9" fill="#1c1c1c" fill-opacity="0.42"/>
<circle cx="606.18" cy="118.50" r="1.9" fill="#1c1c1c" fill-opacity="0.42"/>
<line x1="606.18" y1="118.50" x2="606.18" y2="154.00" stroke="#383838" stroke-width="3.90" stroke-linecap="round"/>
<line x1="600.98" y1="154.40" x2="611.38" y2="154.40" stroke="#464646" stroke-width="1.3"/>
<circle cx="606.18" cy="154.30" r="2.4" fill="#000"/>
<circle cx="655.60" cy="50.60" r="1.9" fill="#1c1c1c" fill-opacity="0.42"/>
<circle cx="655.60" cy="51.92" r="1.9" fill="#1c1c1c" fill-opacity="0.42"/>
<circle cx="655.60" cy="53.31" r="1.9" fill="#1c1c1c" fill-opacity="0.42"/>
<circle cx="655.60" cy="54.35" r="1.9" fill="#1c1c1c" fill-opacity="0.42"/>
<circle cx="655.60" cy="55.89" r="1.9" fill="#1c1c1c" fill-opacity="0.42"/>
<circle cx="655.60" cy="57.06" r="1.9" fill="#1c1c1c" fill-opacity="0.42"/>
<circle cx="655.60" cy="58.69" r="1.9" fill="#1c1c1c" fill-opacity="0.42"/>
<circle cx="655.60" cy="60.14" r="1.9" fill="#1c1c1c" fill-opacity="0.42"/>
<circle cx="655.60" cy="61.35" r="1.9" fill="#1c1c1c" fill-opacity="0.42"/>
<circle cx="655.60" cy="62.45" r="1.9" fill="#1c1c1c" fill-opacity="0.42"/>
<circle cx="655.60" cy="63.64" r="1.9" fill="#1c1c1c" fill-opacity="0.42"/>
<circle cx="655.60" cy="64.50" r="1.9" fill="#1c1c1c" fill-opacity="0.42"/>
<circle cx="655.60" cy="67.10" r="1.9" fill="#1c1c1c" fill-opacity="0.42"/>
<circle cx="655.60" cy="68.58" r="1.9" fill="#1c1c1c" fill-opacity="0.42"/>
<circle cx="655.60" cy="69.67" r="1.9" fill="#1c1c1c" fill-opacity="0.42"/>
<circle cx="655.60" cy="70.73" r="1.9" fill="#1c1c1c" fill-opacity="0.42"/>
<circle cx="655.60" cy="72.10" r="1.9" fill="#1c1c1c" fill-opacity="0.42"/>
<circle cx="655.60" cy="73.50" r="1.9" fill="#1c1c1c" fill-opacity="0.42"/>
<circle cx="655.60" cy="74.78" r="1.9" fill="#1c1c1c" fill-opacity="0.42"/>
<circle cx="655.60" cy="75.94" r="1.9" fill="#1c1c1c" fill-opacity="0.42"/>
<circle cx="655.60" cy="77.36" r="1.9" fill="#1c1c1c" fill-opacity="0.42"/>
<circle cx="655.60" cy="78.38" r="1.9" fill="#1c1c1c" fill-opacity="0.42"/>
<circle cx="655.60" cy="79.60" r="1.9" fill="#1c1c1c" fill-opacity="0.42"/>
<circle cx="655.60" cy="80.92" r="1.9" fill="#1c1c1c" fill-opacity="0.42"/>
<circle cx="655.60" cy="82.58" r="1.9" fill="#1c1c1c" fill-opacity="0.42"/>
<circle cx="655.60" cy="84.03" r="1.9" fill="#1c1c1c" fill-opacity="0.42"/>
<circle cx="655.60" cy="85.64" r="1.9" fill="#1c1c1c" fill-opacity="0.42"/>
<circle cx="655.60" cy="86.97" r="1.9" fill="#1c1c1c" fill-opacity="0.42"/>
<circle cx="655.60" cy="88.14" r="1.9" fill="#1c1c1c" fill-opacity="0.42"/>
<circle cx="655.60" cy="89.32" r="1.9" fill="#1c1c1c" fill-opacity="0.42"/>
<circle cx="655.60" cy="90.98" r="1.9" fill="#1c1c1c" fill-opacity="0.42"/>
<circle cx="655.60" cy="92.47" r="1.9" fill="#1c1c1c" fill-opacity="0.42"/>
<circle cx="655.60" cy="93.69" r="1.9" fill="#1c1c1c" fill-opacity="0.42"/>
<circle cx="655.60" cy="94.72" r="1.9" fill="#1c1c1c" fill-opacity="0.42"/>
<circle cx="655.60" cy="96.06" r="1.9" fill="#1c1c1c" fill-opacity="0.42"/>
<circle cx="655.60" cy="97.53" r="1.9" fill="#1c1c1c" fill-opacity="0.42"/>
<circle cx="655.60" cy="98.83" r="1.9" fill="#1c1c1c" fill-opacity="0.42"/>
<circle cx="655.60" cy="100.00" r="1.9" fill="#1c1c1c" fill-opacity="0.42"/>
<circle cx="655.60" cy="100.00" r="1.9" fill="#1c1c1c" fill-opacity="0.42"/>
<circle cx="655.60" cy="100.81" r="1.9" fill="#1c1c1c" fill-opacity="0.42"/>
<circle cx="655.60" cy="101.72" r="1.9" fill="#1c1c1c" fill-opacity="0.42"/>
<circle cx="655.60" cy="102.37" r="1.9" fill="#1c1c1c" fill-opacity="0.42"/>
<circle cx="655.60" cy="102.95" r="1.9" fill="#1c1c1c" fill-opacity="0.42"/>
<circle cx="655.60" cy="103.63" r="1.9" fill="#1c1c1c" fill-opacity="0.42"/>
<circle cx="655.60" cy="104.35" r="1.9" fill="#1c1c1c" fill-opacity="0.42"/>
<circle cx="655.60" cy="105.17" r="1.9" fill="#1c1c1c" fill-opacity="0.42"/>
<circle cx="655.60" cy="105.81" r="1.9" fill="#1c1c1c" fill-opacity="0.42"/>
<circle cx="655.60" cy="106.67" r="1.9" fill="#1c1c1c" fill-opacity="0.42"/>
<circle cx="655.60" cy="107.51" r="1.9" fill="#1c1c1c" fill-opacity="0.42"/>
<circle cx="655.60" cy="108.26" r="1.9" fill="#1c1c1c" fill-opacity="0.42"/>
<circle cx="655.60" cy="108.90" r="1.9" fill="#1c1c1c" fill-opacity="0.42"/>
<circle cx="655.60" cy="109.83" r="1.9" fill="#1c1c1c" fill-opacity="0.42"/>
<circle cx="655.60" cy="110.51" r="1.9" fill="#1c1c1c" fill-opacity="0.42"/>
<circle cx="655.60" cy="111.38" r="1.9" fill="#1c1c1c" fill-opacity="0.42"/>
<circle cx="655.60" cy="112.03" r="1.9" fill="#1c1c1c" fill-opacity="0.42"/>
<circle cx="655.60" cy="112.67" r="1.9" fill="#1c1c1c" fill-opacity="0.42"/>
<circle cx="655.60" cy="113.52" r="1.9" fill="#1c1c1c" fill-opacity="0.42"/>
<circle cx="655.60" cy="114.19" r="1.9" fill="#1c1c1c" fill-opacity="0.42"/>
<circle cx="655.60" cy="115.11" r="1.9" fill="#1c1c1c" fill-opacity="0.42"/>
<circle cx="655.60" cy="115.86" r="1.9" fill="#1c1c1c" fill-opacity="0.42"/>
<circle cx="655.60" cy="116.49" r="1.9" fill="#1c1c1c" fill-opacity="0.42"/>
<circle cx="655.60" cy="117.14" r="1.9" fill="#1c1c1c" fill-opacity="0.42"/>
<circle cx="655.60" cy="117.86" r="1.9" fill="#1c1c1c" fill-opacity="0.42"/>
<circle cx="655.60" cy="118.67" r="1.9" fill="#1c1c1c" fill-opacity="0.42"/>
<circle cx="655.60" cy="119.59" r="1.9" fill="#1c1c1c" fill-opacity="0.42"/>
<line x1="655.60" y1="120.00" x2="655.60" y2="154.00" stroke="#383838" stroke-width="3.90" stroke-linecap="round"/>
<line x1="650.40" y1="154.40" x2="660.80" y2="154.40" stroke="#464646" stroke-width="1.3"/>
<circle cx="655.60" cy="154.30" r="2.4" fill="#000"/>
<text x="408.50" y="34.60" font-size="11" text-anchor="middle" >f</text>
<text x="457.92" y="34.60" font-size="11" text-anchor="middle" >e</text>
<text x="507.34" y="34.60" font-size="11" text-anchor="middle" >d</text>
<text x="556.76" y="34.60" font-size="11" text-anchor="middle" >c</text>
<text x="606.18" y="34.60" font-size="11" text-anchor="middle" >b</text>
<text x="655.60" y="45.40" font-size="11" text-anchor="middle" >a</text>
<text x="537.70" y="30.50" font-size="14" text-anchor="middle">***</text>
<line x1="379.30" y1="17.20" x2="684.30" y2="17.20" stroke="#858585" stroke-width="1.5" stroke-linecap="square"/>
<line x1="684.30" y1="17.20" x2="684.30" y2="165.70" stroke="#aaaaaa" stroke-width="1.5" stroke-linecap="square"/>
<line x1="379.30" y1="17.20" x2="379.30" y2="165.70" stroke="#999999" stroke-width="1.5" stroke-linecap="square"/>
<line x1="379.30" y1="165.70" x2="684.30" y2="165.70" stroke="#808080" stroke-width="1.5" stroke-linecap="square"/>
<text class="xl" x="0" y="4.14" font-size="11.5" text-anchor="middle" transform="translate(412.30 178.80) scale(0.93 1) rotate(-19)">Fiber</text>
<text class="xl" x="0" y="4.14" font-size="11.5" text-anchor="middle" transform="translate(458.92 178.80) scale(0.93 1) rotate(-19)">Fragment</text>
<text class="xl" x="0" y="4.14" font-size="11.5" text-anchor="middle" transform="translate(507.64 178.80) scale(0.93 1) rotate(-19)">Film</text>
<text class="xl" x="0" y="4.14" font-size="11.5" text-anchor="middle" transform="translate(557.76 178.80) scale(0.93 1) rotate(-19)">Particle</text>
<text class="xl" x="0" y="4.14" font-size="11.5" text-anchor="middle" transform="translate(607.78 178.80) scale(0.93 1) rotate(-19)">Foam</text>
<text class="xl" x="0" y="4.14" font-size="11.5" text-anchor="middle" transform="translate(658.00 178.80) scale(0.93 1) rotate(-19)">Other</text>
<text x="37.60" y="213.20" font-size="14" text-anchor="start" >c</text>
<line x1="37.5" y1="334.28" x2="39.70" y2="334.28" stroke="#555555" stroke-width="1.4"/>
<line x1="37.5" y1="311.36" x2="39.70" y2="311.36" stroke="#555555" stroke-width="1.4"/>
<line x1="37.5" y1="288.44" x2="39.70" y2="288.44" stroke="#555555" stroke-width="1.4"/>
<line x1="37.5" y1="265.52" x2="39.70" y2="265.52" stroke="#555555" stroke-width="1.4"/>
<line x1="37.5" y1="242.60" x2="39.70" y2="242.60" stroke="#555555" stroke-width="1.4"/>
<text x="0" y="0" font-size="11" text-anchor="end" transform="translate(34.3 338.18) scale(0.93 1)">20</text>
<text x="0" y="0" font-size="11" text-anchor="end" transform="translate(34.3 315.26) scale(0.93 1)">40</text>
<text x="0" y="0" font-size="11" text-anchor="end" transform="translate(34.3 292.34) scale(0.93 1)">60</text>
<text x="0" y="0" font-size="11" text-anchor="end" transform="translate(34.3 269.42) scale(0.93 1)">80</text>
<text x="0" y="0" font-size="11" text-anchor="end" transform="translate(34.3 246.50) scale(0.93 1)">100</text>
<text x="0" y="0" font-size="12.4" text-anchor="middle" transform="translate(9.3 289.4) scale(0.95 1) rotate(-90)">Percentage(%)</text>
<line x1="120.50" y1="368.6" x2="120.50" y2="366.00" stroke="#6a6a6a" stroke-width="1.5"/>
<line x1="259.60" y1="368.6" x2="259.60" y2="366.00" stroke="#6a6a6a" stroke-width="1.5"/>
<line x1="120.50" y1="243.40" x2="120.50" y2="350.30" stroke="#5a5a5a" stroke-width="1"/>
<rect x="115.00" y="252.50" width="11.00" height="39.20" fill="#e8accb" stroke="#464646" stroke-width="1.15"/>
<line x1="115.00" y1="266.90" x2="126.00" y2="266.90" stroke="#464646" stroke-width="1.8"/>
<circle cx="120.50" cy="284.30" r="2.4" fill="#000"/>
<circle cx="120.50" cy="350.30" r="1.9" fill="#1c1c1c" fill-opacity="0.42"/>
<circle cx="120.50" cy="350.30" r="1.9" fill="#1c1c1c" fill-opacity="0.42"/>
<circle cx="120.50" cy="354.90" r="1.9" fill="#1c1c1c" fill-opacity="0.42"/>
<circle cx="120.50" cy="354.90" r="1.9" fill="#1c1c1c" fill-opacity="0.42"/>
<circle cx="120.50" cy="354.90" r="1.9" fill="#1c1c1c" fill-opacity="0.42"/>
<circle cx="120.50" cy="357.00" r="1.9" fill="#1c1c1c" fill-opacity="0.42"/>
<circle cx="120.50" cy="357.00" r="1.9" fill="#1c1c1c" fill-opacity="0.42"/>
<circle cx="120.50" cy="357.00" r="1.9" fill="#1c1c1c" fill-opacity="0.42"/>
<line x1="259.60" y1="250.20" x2="259.60" y2="357.30" stroke="#5a5a5a" stroke-width="1"/>
<rect x="254.10" y="309.50" width="11.00" height="38.20" fill="#e8accb" stroke="#464646" stroke-width="1.15"/>
<line x1="254.10" y1="332.80" x2="265.10" y2="332.80" stroke="#464646" stroke-width="1.8"/>
<circle cx="259.60" cy="339.30" r="2.4" fill="#000"/>
<circle cx="259.60" cy="242.00" r="1.9" fill="#1c1c1c" fill-opacity="0.42"/>
<circle cx="259.60" cy="242.00" r="1.9" fill="#1c1c1c" fill-opacity="0.42"/>
<circle cx="259.60" cy="242.00" r="1.9" fill="#1c1c1c" fill-opacity="0.42"/>
<circle cx="259.60" cy="245.60" r="1.9" fill="#1c1c1c" fill-opacity="0.42"/>
<circle cx="259.60" cy="245.60" r="1.9" fill="#1c1c1c" fill-opacity="0.42"/>
<circle cx="259.60" cy="245.60" r="1.9" fill="#1c1c1c" fill-opacity="0.42"/>
<circle cx="259.60" cy="250.20" r="1.9" fill="#1c1c1c" fill-opacity="0.42"/>
<circle cx="259.60" cy="250.20" r="1.9" fill="#1c1c1c" fill-opacity="0.42"/>
<circle cx="259.60" cy="250.20" r="1.9" fill="#1c1c1c" fill-opacity="0.42"/>
<text x="120.50" y="235.60" font-size="11" text-anchor="middle" >b</text>
<text x="259.60" y="235.60" font-size="11" text-anchor="middle" >a</text>
<text x="191.00" y="232.20" font-size="14" text-anchor="middle">***</text>
<line x1="37.50" y1="219.90" x2="343.00" y2="219.90" stroke="#999" stroke-width="1.5" stroke-linecap="square"/>
<line x1="343.00" y1="219.90" x2="343.00" y2="368.60" stroke="#b0b0b0" stroke-width="1.5" stroke-linecap="square"/>
<line x1="37.50" y1="219.90" x2="37.50" y2="368.60" stroke="#888888" stroke-width="1.3" stroke-linecap="square"/>
<line x1="37.50" y1="368.60" x2="343.00" y2="368.60" stroke="#6a6a6a" stroke-width="1.2" stroke-linecap="square"/>
<text class="xl" x="0" y="4.14" font-size="11.5" text-anchor="middle" transform="translate(121.00 380.10) scale(0.93 1) rotate(-19)">&lt;1mm</text>
<text class="xl" x="0" y="4.14" font-size="11.5" text-anchor="middle" transform="translate(258.70 380.10) scale(0.93 1) rotate(-19)">1<tspan font-size="10" dy="-0.8">~</tspan><tspan dy="0.8">5mm</tspan></text>
<text x="378.60" y="212.70" font-size="14" text-anchor="start" >d</text>
<line x1="379.2" y1="334.28" x2="380.90" y2="334.28" stroke="#555555" stroke-width="1.4"/>
<line x1="379.2" y1="311.36" x2="380.90" y2="311.36" stroke="#555555" stroke-width="1.4"/>
<line x1="379.2" y1="288.44" x2="380.90" y2="288.44" stroke="#555555" stroke-width="1.4"/>
<line x1="379.2" y1="265.52" x2="380.90" y2="265.52" stroke="#555555" stroke-width="1.4"/>
<line x1="379.2" y1="242.60" x2="380.90" y2="242.60" stroke="#555555" stroke-width="1.4"/>
<line x1="396.80" y1="368.5" x2="396.80" y2="365.90" stroke="#6a6a6a" stroke-width="1.5"/>
<line x1="426.88" y1="368.5" x2="426.88" y2="365.90" stroke="#6a6a6a" stroke-width="1.5"/>
<line x1="456.96" y1="368.5" x2="456.96" y2="365.90" stroke="#6a6a6a" stroke-width="1.5"/>
<line x1="487.04" y1="368.5" x2="487.04" y2="365.90" stroke="#6a6a6a" stroke-width="1.5"/>
<line x1="517.12" y1="368.5" x2="517.12" y2="365.90" stroke="#6a6a6a" stroke-width="1.5"/>
<line x1="547.20" y1="368.5" x2="547.20" y2="365.90" stroke="#6a6a6a" stroke-width="1.5"/>
<line x1="577.28" y1="368.5" x2="577.28" y2="365.90" stroke="#6a6a6a" stroke-width="1.5"/>
<line x1="607.36" y1="368.5" x2="607.36" y2="365.90" stroke="#6a6a6a" stroke-width="1.5"/>
<line x1="637.44" y1="368.5" x2="637.44" y2="365.90" stroke="#6a6a6a" stroke-width="1.5"/>
<line x1="667.52" y1="368.5" x2="667.52" y2="365.90" stroke="#6a6a6a" stroke-width="1.5"/>
<line x1="396.80" y1="274.60" x2="396.80" y2="357.60" stroke="#5a5a5a" stroke-width="1"/>
<rect x="391.70" y="316.30" width="10.20" height="28.10" fill="#bec7d9" stroke="#464646" stroke-width="1.15"/>
<line x1="391.70" y1="329.00" x2="401.90" y2="329.00" stroke="#464646" stroke-width="1.8"/>
<circle cx="396.80" cy="339.20" r="2.4" fill="#000"/>
<circle cx="396.80" cy="242.80" r="1.9" fill="#1c1c1c" fill-opacity="0.42"/>
<circle cx="396.80" cy="242.80" r="1.9" fill="#1c1c1c" fill-opacity="0.42"/>
<circle cx="396.80" cy="242.80" r="1.9" fill="#1c1c1c" fill-opacity="0.42"/>
<circle cx="396.80" cy="247.20" r="1.9" fill="#1c1c1c" fill-opacity="0.42"/>
<circle cx="396.80" cy="249.66" r="1.9" fill="#1c1c1c" fill-opacity="0.42"/>
<circle cx="396.80" cy="251.89" r="1.9" fill="#1c1c1c" fill-opacity="0.42"/>
<circle cx="396.80" cy="254.00" r="1.9" fill="#1c1c1c" fill-opacity="0.42"/>
<circle cx="396.80" cy="257.80" r="1.9" fill="#1c1c1c" fill-opacity="0.42"/>
<circle cx="396.80" cy="258.91" r="1.9" fill="#1c1c1c" fill-opacity="0.42"/>
<circle cx="396.80" cy="259.96" r="1.9" fill="#1c1c1c" fill-opacity="0.42"/>
<circle cx="396.80" cy="261.01" r="1.9" fill="#1c1c1c" fill-opacity="0.42"/>
<circle cx="396.80" cy="262.29" r="1.9" fill="#1c1c1c" fill-opacity="0.42"/>
<circle cx="396.80" cy="263.91" r="1.9" fill="#1c1c1c" fill-opacity="0.42"/>
<circle cx="396.80" cy="265.51" r="1.9" fill="#1c1c1c" fill-opacity="0.42"/>
<circle cx="396.80" cy="266.50" r="1.9" fill="#1c1c1c" fill-opacity="0.42"/>
<circle cx="396.80" cy="270.40" r="1.9" fill="#1c1c1c" fill-opacity="0.42"/>
<circle cx="396.80" cy="272.09" r="1.9" fill="#1c1c1c" fill-opacity="0.42"/>
<circle cx="396.80" cy="273.73" r="1.9" fill="#1c1c1c" fill-opacity="0.42"/>
<line x1="426.88" y1="283.00" x2="426.88" y2="357.60" stroke="#5a5a5a" stroke-width="1"/>
<rect x="421.78" y="321.50" width="10.20" height="26.00" fill="#bec7d9" stroke="#464646" stroke-width="1.15"/>
<line x1="421.78" y1="332.50" x2="431.98" y2="332.50" stroke="#464646" stroke-width="1.8"/>
<circle cx="426.88" cy="341.70" r="2.4" fill="#000"/>
<circle cx="426.88" cy="242.40" r="1.9" fill="#1c1c1c" fill-opacity="0.42"/>
<circle cx="426.88" cy="242.40" r="1.9" fill="#1c1c1c" fill-opacity="0.42"/>
<circle cx="426.88" cy="242.40" r="1.9" fill="#1c1c1c" fill-opacity="0.42"/>
<circle cx="426.88" cy="245.50" r="1.9" fill="#1c1c1c" fill-opacity="0.42"/>
<circle cx="426.88" cy="246.64" r="1.9" fill="#1c1c1c" fill-opacity="0.42"/>
<circle cx="426.88" cy="248.28" r="1.9" fill="#1c1c1c" fill-opacity="0.42"/>
<circle cx="426.88" cy="249.80" r="1.9" fill="#1c1c1c" fill-opacity="0.42"/>
<circle cx="426.88" cy="250.83" r="1.9" fill="#1c1c1c" fill-opacity="0.42"/>
<circle cx="426.88" cy="252.00" r="1.9" fill="#1c1c1c" fill-opacity="0.42"/>
<circle cx="426.88" cy="252.00" r="1.9" fill="#1c1c1c" fill-opacity="0.42"/>
<circle cx="426.88" cy="252.70" r="1.9" fill="#1c1c1c" fill-opacity="0.42"/>
<circle cx="426.88" cy="253.41" r="1.9" fill="#1c1c1c" fill-opacity="0.42"/>
<circle cx="426.88" cy="254.09" r="1.9" fill="#1c1c1c" fill-opacity="0.42"/>
<circle cx="426.88" cy="254.72" r="1.9" fill="#1c1c1c" fill-opacity="0.42"/>
<circle cx="426.88" cy="255.28" r="1.9" fill="#1c1c1c" fill-opacity="0.42"/>
<circle cx="426.88" cy="255.95" r="1.9" fill="#1c1c1c" fill-opacity="0.42"/>
<circle cx="426.88" cy="256.65" r="1.9" fill="#1c1c1c" fill-opacity="0.42"/>
<circle cx="426.88" cy="257.57" r="1.9" fill="#1c1c1c" fill-opacity="0.42"/>
<circle cx="426.88" cy="258.18" r="1.9" fill="#1c1c1c" fill-opacity="0.42"/>
<circle cx="426.88" cy="259.10" r="1.9" fill="#1c1c1c" fill-opacity="0.42"/>
<circle cx="426.88" cy="259.74" r="1.9" fill="#1c1c1c" fill-opacity="0.42"/>
<circle cx="426.88" cy="260.44" r="1.9" fill="#1c1c1c" fill-opacity="0.42"/>
<circle cx="426.88" cy="261.31" r="1.9" fill="#1c1c1c" fill-opacity="0.42"/>
<circle cx="426.88" cy="262.18" r="1.9" fill="#1c1c1c" fill-opacity="0.42"/>
<circle cx="426.88" cy="262.90" r="1.9" fill="#1c1c1c" fill-opacity="0.42"/>
<circle cx="426.88" cy="263.48" r="1.9" fill="#1c1c1c" fill-opacity="0.42"/>
<circle cx="426.88" cy="264.22" r="1.9" fill="#1c1c1c" fill-opacity="0.42"/>
<circle cx="426.88" cy="264.92" r="1.9" fill="#1c1c1c" fill-opacity="0.42"/>
<circle cx="426.88" cy="265.83" r="1.9" fill="#1c1c1c" fill-opacity="0.42"/>
<circle cx="426.88" cy="266.47" r="1.9" fill="#1c1c1c" fill-opacity="0.42"/>
<circle cx="426.88" cy="267.17" r="1.9" fill="#1c1c1c" fill-opacity="0.42"/>
<circle cx="426.88" cy="268.07" r="1.9" fill="#1c1c1c" fill-opacity="0.42"/>
<circle cx="426.88" cy="268.64" r="1.9" fill="#1c1c1c" fill-opacity="0.42"/>
<circle cx="426.88" cy="269.36" r="1.9" fill="#1c1c1c" fill-opacity="0.42"/>
<circle cx="426.88" cy="270.22" r="1.9" fill="#1c1c1c" fill-opacity="0.42"/>
<circle cx="426.88" cy="271.07" r="1.9" fill="#1c1c1c" fill-opacity="0.42"/>
<circle cx="426.88" cy="271.65" r="1.9" fill="#1c1c1c" fill-opacity="0.42"/>
<circle cx="426.88" cy="272.23" r="1.9" fill="#1c1c1c" fill-opacity="0.42"/>
<circle cx="426.88" cy="272.81" r="1.9" fill="#1c1c1c" fill-opacity="0.42"/>
<circle cx="426.88" cy="273.72" r="1.9" fill="#1c1c1c" fill-opacity="0.42"/>
<circle cx="426.88" cy="274.38" r="1.9" fill="#1c1c1c" fill-opacity="0.42"/>
<circle cx="426.88" cy="275.22" r="1.9" fill="#1c1c1c" fill-opacity="0.42"/>
<circle cx="426.88" cy="276.12" r="1.9" fill="#1c1c1c" fill-opacity="0.42"/>
<circle cx="426.88" cy="276.81" r="1.9" fill="#1c1c1c" fill-opacity="0.42"/>
<circle cx="426.88" cy="277.47" r="1.9" fill="#1c1c1c" fill-opacity="0.42"/>
<circle cx="426.88" cy="278.40" r="1.9" fill="#1c1c1c" fill-opacity="0.42"/>
<circle cx="426.88" cy="279.19" r="1.9" fill="#1c1c1c" fill-opacity="0.42"/>
<circle cx="426.88" cy="279.85" r="1.9" fill="#1c1c1c" fill-opacity="0.42"/>
<circle cx="426.88" cy="280.68" r="1.9" fill="#1c1c1c" fill-opacity="0.42"/>
<circle cx="426.88" cy="281.36" r="1.9" fill="#1c1c1c" fill-opacity="0.42"/>
<circle cx="426.88" cy="282.03" r="1.9" fill="#1c1c1c" fill-opacity="0.42"/>
<circle cx="426.88" cy="282.59" r="1.9" fill="#1c1c1c" fill-opacity="0.42"/>
<line x1="456.96" y1="296.70" x2="456.96" y2="357.50" stroke="#5a5a5a" stroke-width="1"/>
<rect x="451.86" y="332.00" width="10.20" height="25.50" fill="#bec7d9" stroke="#464646" stroke-width="1.15"/>
<line x1="451.86" y1="347.80" x2="462.06" y2="347.80" stroke="#464646" stroke-width="1.8"/>
<circle cx="456.96" cy="351.30" r="2.4" fill="#000"/>
<circle cx="456.96" cy="243.30" r="1.9" fill="#1c1c1c" fill-opacity="0.42"/>
<circle cx="456.96" cy="243.30" r="1.9" fill="#1c1c1c" fill-opacity="0.42"/>
<circle cx="456.96" cy="243.30" r="1.9" fill="#1c1c1c" fill-opacity="0.42"/>
<circle cx="456.96" cy="253.90" r="1.9" fill="#1c1c1c" fill-opacity="0.42"/>
<circle cx="456.96" cy="255.53" r="1.9" fill="#1c1c1c" fill-opacity="0.42"/>
<circle cx="456.96" cy="256.97" r="1.9" fill="#1c1c1c" fill-opacity="0.42"/>
<circle cx="456.96" cy="258.62" r="1.9" fill="#1c1c1c" fill-opacity="0.42"/>
<circle cx="456.96" cy="259.65" r="1.9" fill="#1c1c1c" fill-opacity="0.42"/>
<circle cx="456.96" cy="260.82" r="1.9" fill="#1c1c1c" fill-opacity="0.42"/>
<circle cx="456.96" cy="262.15" r="1.9" fill="#1c1c1c" fill-opacity="0.42"/>
<circle cx="456.96" cy="263.60" r="1.9" fill="#1c1c1c" fill-opacity="0.42"/>
<circle cx="456.96" cy="266.40" r="1.9" fill="#1c1c1c" fill-opacity="0.42"/>
<circle cx="456.96" cy="267.32" r="1.9" fill="#1c1c1c" fill-opacity="0.42"/>
<circle cx="456.96" cy="268.03" r="1.9" fill="#1c1c1c" fill-opacity="0.42"/>
<circle cx="456.96" cy="268.68" r="1.9" fill="#1c1c1c" fill-opacity="0.42"/>
<circle cx="456.96" cy="269.41" r="1.9" fill="#1c1c1c" fill-opacity="0.42"/>
<circle cx="456.96" cy="270.16" r="1.9" fill="#1c1c1c" fill-opacity="0.42"/>
<circle cx="456.96" cy="271.07" r="1.9" fill="#1c1c1c" fill-opacity="0.42"/>
<circle cx="456.96" cy="271.70" r="1.9" fill="#1c1c1c" fill-opacity="0.42"/>
<circle cx="456.96" cy="272.56" r="1.9" fill="#1c1c1c" fill-opacity="0.42"/>
<circle cx="456.96" cy="273.40" r="1.9" fill="#1c1c1c" fill-opacity="0.42"/>
<circle cx="456.96" cy="274.27" r="1.9" fill="#1c1c1c" fill-opacity="0.42"/>
<circle cx="456.96" cy="275.12" r="1.9" fill="#1c1c1c" fill-opacity="0.42"/>
<circle cx="456.96" cy="275.91" r="1.9" fill="#1c1c1c" fill-opacity="0.42"/>
<circle cx="456.96" cy="276.60" r="1.9" fill="#1c1c1c" fill-opacity="0.42"/>
<circle cx="456.96" cy="277.28" r="1.9" fill="#1c1c1c" fill-opacity="0.42"/>
<circle cx="456.96" cy="277.98" r="1.9" fill="#1c1c1c" fill-opacity="0.42"/>
<circle cx="456.96" cy="278.84" r="1.9" fill="#1c1c1c" fill-opacity="0.42"/>
<circle cx="456.96" cy="279.43" r="1.9" fill="#1c1c1c" fill-opacity="0.42"/>
<circle cx="456.96" cy="280.06" r="1.9" fill="#1c1c1c" fill-opacity="0.42"/>
<circle cx="456.96" cy="280.91" r="1.9" fill="#1c1c1c" fill-opacity="0.42"/>
<circle cx="456.96" cy="281.56" r="1.9" fill="#1c1c1c" fill-opacity="0.42"/>
<circle cx="456.96" cy="282.15" r="1.9" fill="#1c1c1c" fill-opacity="0.42"/>
<circle cx="456.96" cy="282.73" r="1.9" fill="#1c1c1c" fill-opacity="0.42"/>
<circle cx="456.96" cy="283.50" r="1.9" fill="#1c1c1c" fill-opacity="0.42"/>
<circle cx="456.96" cy="284.18" r="1.9" fill="#1c1c1c" fill-opacity="0.42"/>
<circle cx="456.96" cy="285.11" r="1.9" fill="#1c1c1c" fill-opacity="0.42"/>
<circle cx="456.96" cy="286.00" r="1.9" fill="#1c1c1c" fill-opacity="0.42"/>
<circle cx="456.96" cy="286.94" r="1.9" fill="#1c1c1c" fill-opacity="0.42"/>
<circle cx="456.96" cy="287.60" r="1.9" fill="#1c1c1c" fill-opacity="0.42"/>
<circle cx="456.96" cy="288.19" r="1.9" fill="#1c1c1c" fill-opacity="0.42"/>
<circle cx="456.96" cy="288.79" r="1.9" fill="#1c1c1c" fill-opacity="0.42"/>
<circle cx="456.96" cy="289.54" r="1.9" fill="#1c1c1c" fill-opacity="0.42"/>
<circle cx="456.96" cy="290.37" r="1.9" fill="#1c1c1c" fill-opacity="0.42"/>
<circle cx="456.96" cy="291.10" r="1.9" fill="#1c1c1c" fill-opacity="0.42"/>
<circle cx="456.96" cy="291.75" r="1.9" fill="#1c1c1c" fill-opacity="0.42"/>
<circle cx="456.96" cy="292.47" r="1.9" fill="#1c1c1c" fill-opacity="0.42"/>
<circle cx="456.96" cy="293.26" r="1.9" fill="#1c1c1c" fill-opacity="0.42"/>
<circle cx="456.96" cy="294.08" r="1.9" fill="#1c1c1c" fill-opacity="0.42"/>
<circle cx="456.96" cy="294.92" r="1.9" fill="#1c1c1c" fill-opacity="0.42"/>
<circle cx="456.96" cy="295.80" r="1.9" fill="#1c1c1c" fill-opacity="0.42"/>
<circle cx="456.96" cy="296.61" r="1.9" fill="#1c1c1c" fill-opacity="0.42"/>
<line x1="487.04" y1="313.10" x2="487.04" y2="357.50" stroke="#5a5a5a" stroke-width="1"/>
<rect x="481.94" y="339.50" width="10.20" height="18.00" fill="#bec7d9" stroke="#464646" stroke-width="1.15"/>
<line x1="481.94" y1="350.70" x2="492.14" y2="350.70" stroke="#464646" stroke-width="1.8"/>
<circle cx="487.04" cy="352.60" r="2.4" fill="#000"/>
<circle cx="487.04" cy="243.30" r="1.9" fill="#1c1c1c" fill-opacity="0.42"/>
<circle cx="487.04" cy="243.30" r="1.9" fill="#1c1c1c" fill-opacity="0.42"/>
<circle cx="487.04" cy="243.30" r="1.9" fill="#1c1c1c" fill-opacity="0.42"/>
<circle cx="487.04" cy="287.60" r="1.9" fill="#1c1c1c" fill-opacity="0.42"/>
<circle cx="487.04" cy="288.48" r="1.9" fill="#1c1c1c" fill-opacity="0.42"/>
<circle cx="487.04" cy="289.15" r="1.9" fill="#1c1c1c" fill-opacity="0.42"/>
<circle cx="487.04" cy="289.93" r="1.9" fill="#1c1c1c" fill-opacity="0.42"/>
<circle cx="487.04" cy="290.63" r="1.9" fill="#1c1c1c" fill-opacity="0.42"/>
<circle cx="487.04" cy="291.47" r="1.9" fill="#1c1c1c" fill-opacity="0.42"/>
<circle cx="487.04" cy="294.80" r="1.9" fill="#1c1c1c" fill-opacity="0.42"/>
<circle cx="487.04" cy="295.46" r="1.9" fill="#1c1c1c" fill-opacity="0.42"/>
<circle cx="487.04" cy="296.11" r="1.9" fill="#1c1c1c" fill-opacity="0.42"/>
<circle cx="487.04" cy="296.73" r="1.9" fill="#1c1c1c" fill-opacity="0.42"/>
<circle cx="487.04" cy="297.62" r="1.9" fill="#1c1c1c" fill-opacity="0.42"/>
<circle cx="487.04" cy="298.40" r="1.9" fill="#1c1c1c" fill-opacity="0.42"/>
<circle cx="487.04" cy="299.09" r="1.9" fill="#1c1c1c" fill-opacity="0.42"/>
<circle cx="487.04" cy="299.80" r="1.9" fill="#1c1c1c" fill-opacity="0.42"/>
<circle cx="487.04" cy="300.73" r="1.9" fill="#1c1c1c" fill-opacity="0.42"/>
<circle cx="487.04" cy="301.49" r="1.9" fill="#1c1c1c" fill-opacity="0.42"/>
<circle cx="487.04" cy="304.50" r="1.9" fill="#1c1c1c" fill-opacity="0.42"/>
<circle cx="487.04" cy="305.37" r="1.9" fill="#1c1c1c" fill-opacity="0.42"/>
<circle cx="487.04" cy="306.17" r="1.9" fill="#1c1c1c" fill-opacity="0.42"/>
<circle cx="487.04" cy="307.11" r="1.9" fill="#1c1c1c" fill-opacity="0.42"/>
<circle cx="487.04" cy="307.71" r="1.9" fill="#1c1c1c" fill-opacity="0.42"/>
<circle cx="487.04" cy="308.45" r="1.9" fill="#1c1c1c" fill-opacity="0.42"/>
<circle cx="487.04" cy="309.32" r="1.9" fill="#1c1c1c" fill-opacity="0.42"/>
<circle cx="487.04" cy="310.20" r="1.9" fill="#1c1c1c" fill-opacity="0.42"/>
<circle cx="487.04" cy="311.10" r="1.9" fill="#1c1c1c" fill-opacity="0.42"/>
<circle cx="487.04" cy="311.68" r="1.9" fill="#1c1c1c" fill-opacity="0.42"/>
<circle cx="487.04" cy="312.35" r="1.9" fill="#1c1c1c" fill-opacity="0.42"/>
<circle cx="487.04" cy="312.96" r="1.9" fill="#1c1c1c" fill-opacity="0.42"/>
<line x1="517.12" y1="342.00" x2="517.12" y2="357.50" stroke="#5a5a5a" stroke-width="1"/>
<rect x="512.02" y="351.30" width="10.20" height="6.60" fill="#bec7d9" stroke="#464646" stroke-width="1.15"/>
<circle cx="517.12" cy="280.00" r="1.9" fill="#1c1c1c" fill-opacity="0.42"/>
<circle cx="517.12" cy="280.93" r="1.9" fill="#1c1c1c" fill-opacity="0.42"/>
<circle cx="517.12" cy="281.71" r="1.9" fill="#1c1c1c" fill-opacity="0.42"/>
<circle cx="517.12" cy="282.62" r="1.9" fill="#1c1c1c" fill-opacity="0.42"/>
<circle cx="517.12" cy="283.32" r="1.9" fill="#1c1c1c" fill-opacity="0.42"/>
<circle cx="517.12" cy="284.21" r="1.9" fill="#1c1c1c" fill-opacity="0.42"/>
<circle cx="517.12" cy="284.80" r="1.9" fill="#1c1c1c" fill-opacity="0.42"/>
<circle cx="517.12" cy="291.50" r="1.9" fill="#1c1c1c" fill-opacity="0.42"/>
<circle cx="517.12" cy="296.70" r="1.9" fill="#1c1c1c" fill-opacity="0.42"/>
<circle cx="517.12" cy="297.36" r="1.9" fill="#1c1c1c" fill-opacity="0.42"/>
<circle cx="517.12" cy="298.21" r="1.9" fill="#1c1c1c" fill-opacity="0.42"/>
<circle cx="517.12" cy="299.13" r="1.9" fill="#1c1c1c" fill-opacity="0.42"/>
<circle cx="517.12" cy="299.73" r="1.9" fill="#1c1c1c" fill-opacity="0.42"/>
<circle cx="517.12" cy="300.52" r="1.9" fill="#1c1c1c" fill-opacity="0.42"/>
<circle cx="517.12" cy="303.50" r="1.9" fill="#1c1c1c" fill-opacity="0.42"/>
<circle cx="517.12" cy="304.14" r="1.9" fill="#1c1c1c" fill-opacity="0.42"/>
<circle cx="517.12" cy="304.84" r="1.9" fill="#1c1c1c" fill-opacity="0.42"/>
<circle cx="517.12" cy="305.46" r="1.9" fill="#1c1c1c" fill-opacity="0.42"/>
<circle cx="517.12" cy="306.10" r="1.9" fill="#1c1c1c" fill-opacity="0.42"/>
<circle cx="517.12" cy="306.76" r="1.9" fill="#1c1c1c" fill-opacity="0.42"/>
<circle cx="517.12" cy="307.54" r="1.9" fill="#1c1c1c" fill-opacity="0.42"/>
<circle cx="517.12" cy="308.35" r="1.9" fill="#1c1c1c" fill-opacity="0.42"/>
<circle cx="517.12" cy="308.99" r="1.9" fill="#1c1c1c" fill-opacity="0.42"/>
<circle cx="517.12" cy="309.56" r="1.9" fill="#1c1c1c" fill-opacity="0.42"/>
<circle cx="517.12" cy="310.24" r="1.9" fill="#1c1c1c" fill-opacity="0.42"/>
<circle cx="517.12" cy="311.06" r="1.9" fill="#1c1c1c" fill-opacity="0.42"/>
<circle cx="517.12" cy="311.69" r="1.9" fill="#1c1c1c" fill-opacity="0.42"/>
<circle cx="517.12" cy="312.37" r="1.9" fill="#1c1c1c" fill-opacity="0.42"/>
<circle cx="517.12" cy="313.01" r="1.9" fill="#1c1c1c" fill-opacity="0.42"/>
<circle cx="517.12" cy="313.87" r="1.9" fill="#1c1c1c" fill-opacity="0.42"/>
<circle cx="517.12" cy="314.64" r="1.9" fill="#1c1c1c" fill-opacity="0.42"/>
<circle cx="517.12" cy="315.22" r="1.9" fill="#1c1c1c" fill-opacity="0.42"/>
<circle cx="517.12" cy="315.83" r="1.9" fill="#1c1c1c" fill-opacity="0.42"/>
<circle cx="517.12" cy="316.54" r="1.9" fill="#1c1c1c" fill-opacity="0.42"/>
<circle cx="517.12" cy="317.30" r="1.9" fill="#1c1c1c" fill-opacity="0.42"/>
<circle cx="517.12" cy="318.11" r="1.9" fill="#1c1c1c" fill-opacity="0.42"/>
<circle cx="517.12" cy="318.70" r="1.9" fill="#1c1c1c" fill-opacity="0.42"/>
<circle cx="517.12" cy="319.33" r="1.9" fill="#1c1c1c" fill-opacity="0.42"/>
<circle cx="517.12" cy="320.15" r="1.9" fill="#1c1c1c" fill-opacity="0.42"/>
<circle cx="517.12" cy="320.87" r="1.9" fill="#1c1c1c" fill-opacity="0.42"/>
<circle cx="517.12" cy="321.54" r="1.9" fill="#1c1c1c" fill-opacity="0.42"/>
<circle cx="517.12" cy="322.21" r="1.9" fill="#1c1c1c" fill-opacity="0.42"/>
<circle cx="517.12" cy="323.13" r="1.9" fill="#1c1c1c" fill-opacity="0.42"/>
<circle cx="517.12" cy="323.81" r="1.9" fill="#1c1c1c" fill-opacity="0.42"/>
<circle cx="517.12" cy="324.59" r="1.9" fill="#1c1c1c" fill-opacity="0.42"/>
<circle cx="517.12" cy="325.28" r="1.9" fill="#1c1c1c" fill-opacity="0.42"/>
<circle cx="517.12" cy="326.00" r="1.9" fill="#1c1c1c" fill-opacity="0.42"/>
<circle cx="517.12" cy="326.89" r="1.9" fill="#1c1c1c" fill-opacity="0.42"/>
<circle cx="517.12" cy="327.83" r="1.9" fill="#1c1c1c" fill-opacity="0.42"/>
<circle cx="517.12" cy="328.52" r="1.9" fill="#1c1c1c" fill-opacity="0.42"/>
<circle cx="517.12" cy="329.16" r="1.9" fill="#1c1c1c" fill-opacity="0.42"/>
<circle cx="517.12" cy="330.00" r="1.9" fill="#1c1c1c" fill-opacity="0.42"/>
<circle cx="517.12" cy="330.64" r="1.9" fill="#1c1c1c" fill-opacity="0.42"/>
<circle cx="517.12" cy="331.20" r="1.9" fill="#1c1c1c" fill-opacity="0.42"/>
<circle cx="517.12" cy="332.10" r="1.9" fill="#1c1c1c" fill-opacity="0.42"/>
<circle cx="517.12" cy="332.82" r="1.9" fill="#1c1c1c" fill-opacity="0.42"/>
<circle cx="517.12" cy="333.69" r="1.9" fill="#1c1c1c" fill-opacity="0.42"/>
<circle cx="517.12" cy="334.41" r="1.9" fill="#1c1c1c" fill-opacity="0.42"/>
<circle cx="517.12" cy="335.30" r="1.9" fill="#1c1c1c" fill-opacity="0.42"/>
<circle cx="517.12" cy="336.04" r="1.9" fill="#1c1c1c" fill-opacity="0.42"/>
<circle cx="517.12" cy="336.66" r="1.9" fill="#1c1c1c" fill-opacity="0.42"/>
<circle cx="517.12" cy="337.23" r="1.9" fill="#1c1c1c" fill-opacity="0.42"/>
<circle cx="517.12" cy="338.00" r="1.9" fill="#1c1c1c" fill-opacity="0.42"/>
<circle cx="517.12" cy="338.80" r="1.9" fill="#1c1c1c" fill-opacity="0.42"/>
<circle cx="517.12" cy="339.70" r="1.9" fill="#1c1c1c" fill-opacity="0.42"/>
<circle cx="517.12" cy="340.30" r="1.9" fill="#1c1c1c" fill-opacity="0.42"/>
<circle cx="517.12" cy="341.10" r="1.9" fill="#1c1c1c" fill-opacity="0.42"/>
<circle cx="517.12" cy="341.80" r="1.9" fill="#1c1c1c" fill-opacity="0.42"/>
<circle cx="517.12" cy="355.50" r="2.4" fill="#000"/>
<line x1="547.20" y1="341.00" x2="547.20" y2="357.50" stroke="#5a5a5a" stroke-width="1"/>
<rect x="542.10" y="350.70" width="10.20" height="7.20" fill="#bec7d9" stroke="#464646" stroke-width="1.15"/>
<circle cx="547.20" cy="265.20" r="1.9" fill="#1c1c1c" fill-opacity="0.42"/>
<circle cx="547.20" cy="269.40" r="1.9" fill="#1c1c1c" fill-opacity="0.42"/>
<line x1="547.20" y1="280.50" x2="547.20" y2="282.50" stroke="#383838" stroke-width="3.90" stroke-linecap="round"/>
<circle cx="547.20" cy="286.20" r="1.9" fill="#1c1c1c" fill-opacity="0.42"/>
<circle cx="547.20" cy="288.90" r="1.9" fill="#1c1c1c" fill-opacity="0.42"/>
<circle cx="547.20" cy="290.50" r="1.9" fill="#1c1c1c" fill-opacity="0.42"/>
<circle cx="547.20" cy="295.40" r="1.9" fill="#1c1c1c" fill-opacity="0.42"/>
<circle cx="547.20" cy="296.02" r="1.9" fill="#1c1c1c" fill-opacity="0.42"/>
<circle cx="547.20" cy="296.69" r="1.9" fill="#1c1c1c" fill-opacity="0.42"/>
<circle cx="547.20" cy="297.44" r="1.9" fill="#1c1c1c" fill-opacity="0.42"/>
<circle cx="547.20" cy="298.35" r="1.9" fill="#1c1c1c" fill-opacity="0.42"/>
<circle cx="547.20" cy="298.96" r="1.9" fill="#1c1c1c" fill-opacity="0.42"/>
<circle cx="547.20" cy="299.70" r="1.9" fill="#1c1c1c" fill-opacity="0.42"/>
<circle cx="547.20" cy="300.57" r="1.9" fill="#1c1c1c" fill-opacity="0.42"/>
<circle cx="547.20" cy="301.49" r="1.9" fill="#1c1c1c" fill-opacity="0.42"/>
<circle cx="547.20" cy="302.13" r="1.9" fill="#1c1c1c" fill-opacity="0.42"/>
<circle cx="547.20" cy="302.74" r="1.9" fill="#1c1c1c" fill-opacity="0.42"/>
<circle cx="547.20" cy="303.66" r="1.9" fill="#1c1c1c" fill-opacity="0.42"/>
<circle cx="547.20" cy="304.58" r="1.9" fill="#1c1c1c" fill-opacity="0.42"/>
<circle cx="547.20" cy="305.33" r="1.9" fill="#1c1c1c" fill-opacity="0.42"/>
<circle cx="547.20" cy="305.70" r="1.9" fill="#1c1c1c" fill-opacity="0.42"/>
<circle cx="547.20" cy="306.61" r="1.9" fill="#1c1c1c" fill-opacity="0.42"/>
<circle cx="547.20" cy="307.32" r="1.9" fill="#1c1c1c" fill-opacity="0.42"/>
<circle cx="547.20" cy="308.22" r="1.9" fill="#1c1c1c" fill-opacity="0.42"/>
<circle cx="547.20" cy="309.01" r="1.9" fill="#1c1c1c" fill-opacity="0.42"/>
<circle cx="547.20" cy="309.89" r="1.9" fill="#1c1c1c" fill-opacity="0.42"/>
<circle cx="547.20" cy="310.51" r="1.9" fill="#1c1c1c" fill-opacity="0.42"/>
<circle cx="547.20" cy="311.37" r="1.9" fill="#1c1c1c" fill-opacity="0.42"/>
<circle cx="547.20" cy="312.01" r="1.9" fill="#1c1c1c" fill-opacity="0.42"/>
<circle cx="547.20" cy="312.73" r="1.9" fill="#1c1c1c" fill-opacity="0.42"/>
<circle cx="547.20" cy="313.61" r="1.9" fill="#1c1c1c" fill-opacity="0.42"/>
<circle cx="547.20" cy="314.48" r="1.9" fill="#1c1c1c" fill-opacity="0.42"/>
<circle cx="547.20" cy="315.11" r="1.9" fill="#1c1c1c" fill-opacity="0.42"/>
<circle cx="547.20" cy="315.75" r="1.9" fill="#1c1c1c" fill-opacity="0.42"/>
<circle cx="547.20" cy="316.47" r="1.9" fill="#1c1c1c" fill-opacity="0.42"/>
<circle cx="547.20" cy="317.22" r="1.9" fill="#1c1c1c" fill-opacity="0.42"/>
<circle cx="547.20" cy="317.93" r="1.9" fill="#1c1c1c" fill-opacity="0.42"/>
<circle cx="547.20" cy="318.54" r="1.9" fill="#1c1c1c" fill-opacity="0.42"/>
<circle cx="547.20" cy="319.19" r="1.9" fill="#1c1c1c" fill-opacity="0.42"/>
<circle cx="547.20" cy="320.03" r="1.9" fill="#1c1c1c" fill-opacity="0.42"/>
<circle cx="547.20" cy="320.93" r="1.9" fill="#1c1c1c" fill-opacity="0.42"/>
<circle cx="547.20" cy="321.51" r="1.9" fill="#1c1c1c" fill-opacity="0.42"/>
<circle cx="547.20" cy="322.28" r="1.9" fill="#1c1c1c" fill-opacity="0.42"/>
<circle cx="547.20" cy="323.13" r="1.9" fill="#1c1c1c" fill-opacity="0.42"/>
<circle cx="547.20" cy="323.70" r="1.9" fill="#1c1c1c" fill-opacity="0.42"/>
<circle cx="547.20" cy="324.58" r="1.9" fill="#1c1c1c" fill-opacity="0.42"/>
<circle cx="547.20" cy="325.19" r="1.9" fill="#1c1c1c" fill-opacity="0.42"/>
<circle cx="547.20" cy="325.97" r="1.9" fill="#1c1c1c" fill-opacity="0.42"/>
<circle cx="547.20" cy="326.74" r="1.9" fill="#1c1c1c" fill-opacity="0.42"/>
<circle cx="547.20" cy="327.54" r="1.9" fill="#1c1c1c" fill-opacity="0.42"/>
<circle cx="547.20" cy="328.22" r="1.9" fill="#1c1c1c" fill-opacity="0.42"/>
<circle cx="547.20" cy="328.94" r="1.9" fill="#1c1c1c" fill-opacity="0.42"/>
<circle cx="547.20" cy="329.72" r="1.9" fill="#1c1c1c" fill-opacity="0.42"/>
<circle cx="547.20" cy="330.44" r="1.9" fill="#1c1c1c" fill-opacity="0.42"/>
<circle cx="547.20" cy="331.25" r="1.9" fill="#1c1c1c" fill-opacity="0.42"/>
<circle cx="547.20" cy="331.98" r="1.9" fill="#1c1c1c" fill-opacity="0.42"/>
<circle cx="547.20" cy="332.71" r="1.9" fill="#1c1c1c" fill-opacity="0.42"/>
<circle cx="547.20" cy="333.28" r="1.9" fill="#1c1c1c" fill-opacity="0.42"/>
<circle cx="547.20" cy="334.07" r="1.9" fill="#1c1c1c" fill-opacity="0.42"/>
<circle cx="547.20" cy="334.82" r="1.9" fill="#1c1c1c" fill-opacity="0.42"/>
<circle cx="547.20" cy="335.47" r="1.9" fill="#1c1c1c" fill-opacity="0.42"/>
<circle cx="547.20" cy="336.32" r="1.9" fill="#1c1c1c" fill-opacity="0.42"/>
<circle cx="547.20" cy="337.17" r="1.9" fill="#1c1c1c" fill-opacity="0.42"/>
<circle cx="547.20" cy="337.91" r="1.9" fill="#1c1c1c" fill-opacity="0.42"/>
<circle cx="547.20" cy="338.54" r="1.9" fill="#1c1c1c" fill-opacity="0.42"/>
<circle cx="547.20" cy="339.28" r="1.9" fill="#1c1c1c" fill-opacity="0.42"/>
<circle cx="547.20" cy="339.88" r="1.9" fill="#1c1c1c" fill-opacity="0.42"/>
<circle cx="547.20" cy="340.49" r="1.9" fill="#1c1c1c" fill-opacity="0.42"/>
<circle cx="547.20" cy="341.21" r="1.9" fill="#1c1c1c" fill-opacity="0.42"/>
<circle cx="547.20" cy="356.00" r="2.4" fill="#000"/>
<circle cx="577.28" cy="242.60" r="1.9" fill="#1c1c1c" fill-opacity="0.42"/>
<circle cx="577.28" cy="242.60" r="1.9" fill="#1c1c1c" fill-opacity="0.42"/>
<circle cx="577.28" cy="242.60" r="1.9" fill="#1c1c1c" fill-opacity="0.42"/>
<circle cx="577.28" cy="269.40" r="1.9" fill="#1c1c1c" fill-opacity="0.42"/>
<circle cx="577.28" cy="275.90" r="1.9" fill="#1c1c1c" fill-opacity="0.42"/>
<circle cx="577.28" cy="275.90" r="1.9" fill="#1c1c1c" fill-opacity="0.42"/>
<circle cx="577.28" cy="275.90" r="1.9" fill="#1c1c1c" fill-opacity="0.42"/>
<circle cx="577.28" cy="280.00" r="1.9" fill="#1c1c1c" fill-opacity="0.42"/>
<circle cx="577.28" cy="290.30" r="1.9" fill="#1c1c1c" fill-opacity="0.42"/>
<circle cx="577.28" cy="291.03" r="1.9" fill="#1c1c1c" fill-opacity="0.42"/>
<circle cx="577.28" cy="291.78" r="1.9" fill="#1c1c1c" fill-opacity="0.42"/>
<circle cx="577.28" cy="292.36" r="1.9" fill="#1c1c1c" fill-opacity="0.42"/>
<circle cx="577.28" cy="293.16" r="1.9" fill="#1c1c1c" fill-opacity="0.42"/>
<circle cx="577.28" cy="293.75" r="1.9" fill="#1c1c1c" fill-opacity="0.42"/>
<circle cx="577.28" cy="294.59" r="1.9" fill="#1c1c1c" fill-opacity="0.42"/>
<circle cx="577.28" cy="295.45" r="1.9" fill="#1c1c1c" fill-opacity="0.42"/>
<circle cx="577.28" cy="296.20" r="1.9" fill="#1c1c1c" fill-opacity="0.42"/>
<circle cx="577.28" cy="296.78" r="1.9" fill="#1c1c1c" fill-opacity="0.42"/>
<circle cx="577.28" cy="297.53" r="1.9" fill="#1c1c1c" fill-opacity="0.42"/>
<circle cx="577.28" cy="298.24" r="1.9" fill="#1c1c1c" fill-opacity="0.42"/>
<circle cx="577.28" cy="299.16" r="1.9" fill="#1c1c1c" fill-opacity="0.42"/>
<circle cx="577.28" cy="299.77" r="1.9" fill="#1c1c1c" fill-opacity="0.42"/>
<circle cx="577.28" cy="300.66" r="1.9" fill="#1c1c1c" fill-opacity="0.42"/>
<circle cx="577.28" cy="301.59" r="1.9" fill="#1c1c1c" fill-opacity="0.42"/>
<circle cx="577.28" cy="312.90" r="1.9" fill="#1c1c1c" fill-opacity="0.42"/>
<circle cx="577.28" cy="319.00" r="1.9" fill="#1c1c1c" fill-opacity="0.42"/>
<circle cx="577.28" cy="319.00" r="1.9" fill="#1c1c1c" fill-opacity="0.42"/>
<circle cx="577.28" cy="327.30" r="1.9" fill="#1c1c1c" fill-opacity="0.42"/>
<circle cx="577.28" cy="328.17" r="1.9" fill="#1c1c1c" fill-opacity="0.42"/>
<circle cx="577.28" cy="328.80" r="1.9" fill="#1c1c1c" fill-opacity="0.42"/>
<circle cx="577.28" cy="329.73" r="1.9" fill="#1c1c1c" fill-opacity="0.42"/>
<circle cx="577.28" cy="330.48" r="1.9" fill="#1c1c1c" fill-opacity="0.42"/>
<circle cx="577.28" cy="331.40" r="1.9" fill="#1c1c1c" fill-opacity="0.42"/>
<circle cx="577.28" cy="332.31" r="1.9" fill="#1c1c1c" fill-opacity="0.42"/>
<circle cx="577.28" cy="332.93" r="1.9" fill="#1c1c1c" fill-opacity="0.42"/>
<circle cx="577.28" cy="333.79" r="1.9" fill="#1c1c1c" fill-opacity="0.42"/>
<circle cx="577.28" cy="334.50" r="1.9" fill="#1c1c1c" fill-opacity="0.42"/>
<circle cx="577.28" cy="334.50" r="1.9" fill="#1c1c1c" fill-opacity="0.42"/>
<circle cx="577.28" cy="335.56" r="1.9" fill="#1c1c1c" fill-opacity="0.42"/>
<circle cx="577.28" cy="336.81" r="1.9" fill="#1c1c1c" fill-opacity="0.42"/>
<circle cx="577.28" cy="338.33" r="1.9" fill="#1c1c1c" fill-opacity="0.42"/>
<circle cx="577.28" cy="339.45" r="1.9" fill="#1c1c1c" fill-opacity="0.42"/>
<circle cx="577.28" cy="341.07" r="1.9" fill="#1c1c1c" fill-opacity="0.42"/>
<circle cx="577.28" cy="341.70" r="1.9" fill="#1c1c1c" fill-opacity="0.42"/>
<circle cx="577.28" cy="341.70" r="1.9" fill="#1c1c1c" fill-opacity="0.42"/>
<circle cx="577.28" cy="342.57" r="1.9" fill="#1c1c1c" fill-opacity="0.42"/>
<circle cx="577.28" cy="343.18" r="1.9" fill="#1c1c1c" fill-opacity="0.42"/>
<circle cx="577.28" cy="343.94" r="1.9" fill="#1c1c1c" fill-opacity="0.42"/>
<circle cx="577.28" cy="344.84" r="1.9" fill="#1c1c1c" fill-opacity="0.42"/>
<circle cx="577.28" cy="345.48" r="1.9" fill="#1c1c1c" fill-opacity="0.42"/>
<circle cx="577.28" cy="346.14" r="1.9" fill="#1c1c1c" fill-opacity="0.42"/>
<circle cx="577.28" cy="346.90" r="1.9" fill="#1c1c1c" fill-opacity="0.42"/>
<circle cx="577.28" cy="347.58" r="1.9" fill="#1c1c1c" fill-opacity="0.42"/>
<circle cx="577.28" cy="348.16" r="1.9" fill="#1c1c1c" fill-opacity="0.42"/>
<circle cx="577.28" cy="348.79" r="1.9" fill="#1c1c1c" fill-opacity="0.42"/>
<circle cx="577.28" cy="349.41" r="1.9" fill="#1c1c1c" fill-opacity="0.42"/>
<circle cx="577.28" cy="350.00" r="1.9" fill="#1c1c1c" fill-opacity="0.42"/>
<line x1="577.28" y1="350.00" x2="577.28" y2="357.20" stroke="#383838" stroke-width="3.90" stroke-linecap="round"/>
<line x1="572.08" y1="357.50" x2="582.48" y2="357.50" stroke="#464646" stroke-width="1.3"/>
<circle cx="577.28" cy="357.20" r="2.4" fill="#000"/>
<circle cx="607.36" cy="280.30" r="1.9" fill="#1c1c1c" fill-opacity="0.42"/>
<circle cx="607.36" cy="289.30" r="1.9" fill="#1c1c1c" fill-opacity="0.42"/>
<circle cx="607.36" cy="299.50" r="1.9" fill="#1c1c1c" fill-opacity="0.42"/>
<circle cx="607.36" cy="309.80" r="1.9" fill="#1c1c1c" fill-opacity="0.42"/>
<circle cx="607.36" cy="311.27" r="1.9" fill="#1c1c1c" fill-opacity="0.42"/>
<circle cx="607.36" cy="312.89" r="1.9" fill="#1c1c1c" fill-opacity="0.42"/>
<circle cx="607.36" cy="315.00" r="1.9" fill="#1c1c1c" fill-opacity="0.42"/>
<circle cx="607.36" cy="315.86" r="1.9" fill="#1c1c1c" fill-opacity="0.42"/>
<circle cx="607.36" cy="316.46" r="1.9" fill="#1c1c1c" fill-opacity="0.42"/>
<circle cx="607.36" cy="317.22" r="1.9" fill="#1c1c1c" fill-opacity="0.42"/>
<circle cx="607.36" cy="318.03" r="1.9" fill="#1c1c1c" fill-opacity="0.42"/>
<circle cx="607.36" cy="318.72" r="1.9" fill="#1c1c1c" fill-opacity="0.42"/>
<circle cx="607.36" cy="319.61" r="1.9" fill="#1c1c1c" fill-opacity="0.42"/>
<circle cx="607.36" cy="322.00" r="1.9" fill="#1c1c1c" fill-opacity="0.42"/>
<circle cx="607.36" cy="323.40" r="1.9" fill="#1c1c1c" fill-opacity="0.42"/>
<circle cx="607.36" cy="325.01" r="1.9" fill="#1c1c1c" fill-opacity="0.42"/>
<circle cx="607.36" cy="326.10" r="1.9" fill="#1c1c1c" fill-opacity="0.42"/>
<circle cx="607.36" cy="327.78" r="1.9" fill="#1c1c1c" fill-opacity="0.42"/>
<circle cx="607.36" cy="329.22" r="1.9" fill="#1c1c1c" fill-opacity="0.42"/>
<circle cx="607.36" cy="330.40" r="1.9" fill="#1c1c1c" fill-opacity="0.42"/>
<circle cx="607.36" cy="332.40" r="1.9" fill="#1c1c1c" fill-opacity="0.42"/>
<circle cx="607.36" cy="333.26" r="1.9" fill="#1c1c1c" fill-opacity="0.42"/>
<circle cx="607.36" cy="333.92" r="1.9" fill="#1c1c1c" fill-opacity="0.42"/>
<circle cx="607.36" cy="334.86" r="1.9" fill="#1c1c1c" fill-opacity="0.42"/>
<circle cx="607.36" cy="335.64" r="1.9" fill="#1c1c1c" fill-opacity="0.42"/>
<circle cx="607.36" cy="336.33" r="1.9" fill="#1c1c1c" fill-opacity="0.42"/>
<circle cx="607.36" cy="337.18" r="1.9" fill="#1c1c1c" fill-opacity="0.42"/>
<circle cx="607.36" cy="337.91" r="1.9" fill="#1c1c1c" fill-opacity="0.42"/>
<circle cx="607.36" cy="338.54" r="1.9" fill="#1c1c1c" fill-opacity="0.42"/>
<circle cx="607.36" cy="339.38" r="1.9" fill="#1c1c1c" fill-opacity="0.42"/>
<circle cx="607.36" cy="339.96" r="1.9" fill="#1c1c1c" fill-opacity="0.42"/>
<circle cx="607.36" cy="340.83" r="1.9" fill="#1c1c1c" fill-opacity="0.42"/>
<circle cx="607.36" cy="341.49" r="1.9" fill="#1c1c1c" fill-opacity="0.42"/>
<circle cx="607.36" cy="342.29" r="1.9" fill="#1c1c1c" fill-opacity="0.42"/>
<circle cx="607.36" cy="343.22" r="1.9" fill="#1c1c1c" fill-opacity="0.42"/>
<circle cx="607.36" cy="344.01" r="1.9" fill="#1c1c1c" fill-opacity="0.42"/>
<circle cx="607.36" cy="344.82" r="1.9" fill="#1c1c1c" fill-opacity="0.42"/>
<line x1="607.36" y1="345.00" x2="607.36" y2="357.20" stroke="#383838" stroke-width="3.90" stroke-linecap="round"/>
<line x1="602.16" y1="357.50" x2="612.56" y2="357.50" stroke="#464646" stroke-width="1.3"/>
<circle cx="607.36" cy="357.20" r="2.4" fill="#000"/>
<circle cx="637.44" cy="328.60" r="1.9" fill="#1c1c1c" fill-opacity="0.42"/>
<circle cx="637.44" cy="334.70" r="1.9" fill="#1c1c1c" fill-opacity="0.42"/>
<circle cx="637.44" cy="334.70" r="1.9" fill="#1c1c1c" fill-opacity="0.42"/>
<circle cx="637.44" cy="334.70" r="1.9" fill="#1c1c1c" fill-opacity="0.42"/>
<line x1="637.44" y1="341.00" x2="637.44" y2="356.50" stroke="#383838" stroke-width="3.90" stroke-linecap="round"/>
<line x1="632.24" y1="357.50" x2="642.64" y2="357.50" stroke="#464646" stroke-width="1.3"/>
<circle cx="637.44" cy="357.20" r="2.4" fill="#000"/>
<line x1="667.52" y1="296.70" x2="667.52" y2="357.50" stroke="#5a5a5a" stroke-width="1"/>
<rect x="662.42" y="332.80" width="10.20" height="24.70" fill="#bec7d9" stroke="#464646" stroke-width="1.15"/>
<line x1="662.42" y1="349.40" x2="672.62" y2="349.40" stroke="#464646" stroke-width="1.8"/>
<circle cx="667.52" cy="351.30" r="2.4" fill="#000"/>
<circle cx="667.52" cy="243.30" r="1.9" fill="#1c1c1c" fill-opacity="0.42"/>
<circle cx="667.52" cy="243.30" r="1.9" fill="#1c1c1c" fill-opacity="0.42"/>
<circle cx="667.52" cy="243.30" r="1.9" fill="#1c1c1c" fill-opacity="0.42"/>
<circle cx="667.52" cy="253.90" r="1.9" fill="#1c1c1c" fill-opacity="0.42"/>
<circle cx="667.52" cy="255.85" r="1.9" fill="#1c1c1c" fill-opacity="0.42"/>
<circle cx="667.52" cy="256.80" r="1.9" fill="#1c1c1c" fill-opacity="0.42"/>
<circle cx="667.52" cy="260.70" r="1.9" fill="#1c1c1c" fill-opacity="0.42"/>
<circle cx="667.52" cy="260.70" r="1.9" fill="#1c1c1c" fill-opacity="0.42"/>
<circle cx="667.52" cy="260.70" r="1.9" fill="#1c1c1c" fill-opacity="0.42"/>
<circle cx="667.52" cy="263.60" r="1.9" fill="#1c1c1c" fill-opacity="0.42"/>
<circle cx="667.52" cy="264.71" r="1.9" fill="#1c1c1c" fill-opacity="0.42"/>
<circle cx="667.52" cy="266.14" r="1.9" fill="#1c1c1c" fill-opacity="0.42"/>
<circle cx="667.52" cy="267.45" r="1.9" fill="#1c1c1c" fill-opacity="0.42"/>
<circle cx="667.52" cy="268.80" r="1.9" fill="#1c1c1c" fill-opacity="0.42"/>
<circle cx="667.52" cy="270.42" r="1.9" fill="#1c1c1c" fill-opacity="0.42"/>
<circle cx="667.52" cy="271.52" r="1.9" fill="#1c1c1c" fill-opacity="0.42"/>
<circle cx="667.52" cy="272.69" r="1.9" fill="#1c1c1c" fill-opacity="0.42"/>
<circle cx="667.52" cy="273.20" r="1.9" fill="#1c1c1c" fill-opacity="0.42"/>
<circle cx="667.52" cy="277.00" r="1.9" fill="#1c1c1c" fill-opacity="0.42"/>
<circle cx="667.52" cy="277.57" r="1.9" fill="#1c1c1c" fill-opacity="0.42"/>
<circle cx="667.52" cy="278.13" r="1.9" fill="#1c1c1c" fill-opacity="0.42"/>
<circle cx="667.52" cy="278.83" r="1.9" fill="#1c1c1c" fill-opacity="0.42"/>
<circle cx="667.52" cy="279.43" r="1.9" fill="#1c1c1c" fill-opacity="0.42"/>
<circle cx="667.52" cy="280.13" r="1.9" fill="#1c1c1c" fill-opacity="0.42"/>
<circle cx="667.52" cy="280.78" r="1.9" fill="#1c1c1c" fill-opacity="0.42"/>
<circle cx="667.52" cy="281.56" r="1.9" fill="#1c1c1c" fill-opacity="0.42"/>
<circle cx="667.52" cy="282.34" r="1.9" fill="#1c1c1c" fill-opacity="0.42"/>
<circle cx="667.52" cy="282.98" r="1.9" fill="#1c1c1c" fill-opacity="0.42"/>
<circle cx="667.52" cy="283.78" r="1.9" fill="#1c1c1c" fill-opacity="0.42"/>
<circle cx="667.52" cy="284.52" r="1.9" fill="#1c1c1c" fill-opacity="0.42"/>
<circle cx="667.52" cy="285.13" r="1.9" fill="#1c1c1c" fill-opacity="0.42"/>
<circle cx="667.52" cy="286.04" r="1.9" fill="#1c1c1c" fill-opacity="0.42"/>
<circle cx="667.52" cy="286.70" r="1.9" fill="#1c1c1c" fill-opacity="0.42"/>
<circle cx="667.52" cy="287.32" r="1.9" fill="#1c1c1c" fill-opacity="0.42"/>
<circle cx="667.52" cy="287.91" r="1.9" fill="#1c1c1c" fill-opacity="0.42"/>
<circle cx="667.52" cy="288.72" r="1.9" fill="#1c1c1c" fill-opacity="0.42"/>
<circle cx="667.52" cy="289.60" r="1.9" fill="#1c1c1c" fill-opacity="0.42"/>
<circle cx="667.52" cy="290.46" r="1.9" fill="#1c1c1c" fill-opacity="0.42"/>
<circle cx="667.52" cy="291.17" r="1.9" fill="#1c1c1c" fill-opacity="0.42"/>
<circle cx="667.52" cy="291.84" r="1.9" fill="#1c1c1c" fill-opacity="0.42"/>
<circle cx="667.52" cy="292.40" r="1.9" fill="#1c1c1c" fill-opacity="0.42"/>
<circle cx="667.52" cy="293.21" r="1.9" fill="#1c1c1c" fill-opacity="0.42"/>
<circle cx="667.52" cy="293.98" r="1.9" fill="#1c1c1c" fill-opacity="0.42"/>
<circle cx="667.52" cy="294.67" r="1.9" fill="#1c1c1c" fill-opacity="0.42"/>
<circle cx="667.52" cy="295.48" r="1.9" fill="#1c1c1c" fill-opacity="0.42"/>
<circle cx="667.52" cy="296.21" r="1.9" fill="#1c1c1c" fill-opacity="0.42"/>
<text x="396.80" y="236.60" font-size="11" text-anchor="middle" >f</text>
<text x="426.88" y="237.00" font-size="11" text-anchor="middle" >e</text>
<text x="456.96" y="237.00" font-size="11" text-anchor="middle" >d</text>
<text x="487.04" y="236.60" font-size="11" text-anchor="middle" >c</text>
<text x="517.12" y="274.70" font-size="11" text-anchor="middle" >b</text>
<text x="547.20" y="261.00" font-size="11" text-anchor="middle" >b</text>
<text x="577.28" y="236.50" font-size="11" text-anchor="middle" >a</text>
<text x="607.36" y="274.00" font-size="11" text-anchor="middle" >a</text>
<text x="637.44" y="322.00" font-size="11" text-anchor="middle" >a</text>
<text x="667.52" y="237.00" font-size="11" text-anchor="middle" >d</text>
<text x="540.10" y="232.60" font-size="14" text-anchor="middle">***</text>
<line x1="379.20" y1="219.95" x2="684.30" y2="219.95" stroke="#999" stroke-width="1.5" stroke-linecap="square"/>
<line x1="684.30" y1="219.95" x2="684.30" y2="368.50" stroke="#aaaaaa" stroke-width="1.5" stroke-linecap="square"/>
<line x1="379.20" y1="219.95" x2="379.20" y2="368.50" stroke="#a0a0a0" stroke-width="1.5" stroke-linecap="square"/>
<line x1="379.20" y1="368.50" x2="684.30" y2="368.50" stroke="#6a6a6a" stroke-width="1.2" stroke-linecap="square"/>
<text class="xl" x="0" y="4.14" font-size="11.5" text-anchor="middle" transform="translate(399.90 378.80) scale(0.93 1) rotate(-19)">PE</text>
<text class="xl" x="0" y="4.14" font-size="11.5" text-anchor="middle" transform="translate(428.03 378.80) scale(0.93 1) rotate(-19)">PP</text>
<text class="xl" x="0" y="4.14" font-size="11.5" text-anchor="middle" transform="translate(457.16 378.80) scale(0.93 1) rotate(-19)">PT</text>
<text class="xl" x="0" y="4.14" font-size="11.5" text-anchor="middle" transform="translate(488.24 378.80) scale(0.93 1) rotate(-19)">PS</text>
<text class="xl" x="0" y="4.14" font-size="11.5" text-anchor="middle" transform="translate(517.92 378.80) scale(0.93 1) rotate(-19)">PVC</text>
<text class="xl" x="0" y="4.14" font-size="11.5" text-anchor="middle" transform="translate(549.30 378.80) scale(0.93 1) rotate(-19)">PA</text>
<text class="xl" x="0" y="4.14" font-size="11.5" text-anchor="middle" transform="translate(581.78 378.80) scale(0.93 1) rotate(-19)">Rayon</text>
<text class="xl" x="0" y="4.14" font-size="11.5" text-anchor="middle" transform="translate(609.46 378.80) scale(0.93 1) rotate(-19)">PC</text>
<text class="xl" x="0" y="4.14" font-size="11.5" text-anchor="middle" transform="translate(638.64 378.80) scale(0.93 1) rotate(-19)">PAN</text>
<text class="xl" x="0" y="4.14" font-size="11.5" text-anchor="middle" transform="translate(669.32 378.80) scale(0.93 1) rotate(-19)">Other</text>
</svg></body></html>
